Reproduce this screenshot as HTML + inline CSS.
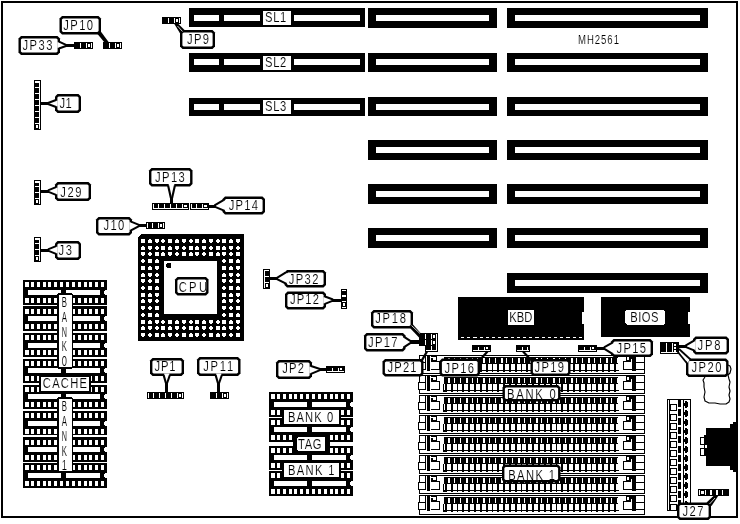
<!DOCTYPE html>
<html lang="en">
<head>
<meta charset="utf-8">
<title>MH2561 motherboard jumper layout</title>
<style>
html,body{margin:0;padding:0;background:#fff;}
body{width:740px;height:524px;overflow:hidden;font-family:"Liberation Sans",sans-serif;}
svg{display:block;}
svg text{font-family:"Liberation Sans",sans-serif;fill:#000;stroke:#fff;stroke-width:0.12px;paint-order:fill stroke;}
</style>
</head>
<body>
<svg width="740" height="524" viewBox="0 0 740 524">
<rect x="0" y="0" width="740" height="524" fill="#fff"/>
<g shape-rendering="crispEdges">
<rect x="2" y="2" width="735" height="515" fill="#fff" stroke="#000" stroke-width="2"/>
<rect x="507" y="8" width="201" height="20" fill="#000"/>
<rect x="515" y="15" width="185" height="6" fill="#fff"/>
<rect x="368" y="8" width="129" height="20" fill="#000"/>
<rect x="376" y="15" width="113" height="6" fill="#fff"/>
<rect x="189" y="8" width="176" height="19" fill="#000"/>
<rect x="194" y="15" width="25" height="6" fill="#fff"/>
<rect x="224" y="15" width="36" height="6" fill="#fff"/>
<rect x="294" y="15" width="66" height="6" fill="#fff"/>
<rect x="263" y="11" width="28" height="14" fill="#fff"/>
<rect x="507" y="53" width="201" height="19" fill="#000"/>
<rect x="515" y="59" width="185" height="6" fill="#fff"/>
<rect x="368" y="53" width="129" height="19" fill="#000"/>
<rect x="376" y="59" width="113" height="6" fill="#fff"/>
<rect x="189" y="53" width="176" height="19" fill="#000"/>
<rect x="194" y="59" width="25" height="6" fill="#fff"/>
<rect x="224" y="59" width="36" height="6" fill="#fff"/>
<rect x="294" y="59" width="66" height="6" fill="#fff"/>
<rect x="263" y="56" width="28" height="14" fill="#fff"/>
<rect x="507" y="97" width="201" height="19" fill="#000"/>
<rect x="515" y="104" width="185" height="6" fill="#fff"/>
<rect x="368" y="97" width="129" height="19" fill="#000"/>
<rect x="376" y="104" width="113" height="6" fill="#fff"/>
<rect x="189" y="98" width="176" height="18" fill="#000"/>
<rect x="194" y="104" width="25" height="6" fill="#fff"/>
<rect x="224" y="104" width="36" height="6" fill="#fff"/>
<rect x="294" y="104" width="66" height="6" fill="#fff"/>
<rect x="263" y="100" width="28" height="14" fill="#fff"/>
<rect x="507" y="140" width="201" height="20" fill="#000"/>
<rect x="515" y="147" width="185" height="6" fill="#fff"/>
<rect x="368" y="140" width="129" height="20" fill="#000"/>
<rect x="376" y="147" width="113" height="6" fill="#fff"/>
<rect x="507" y="184" width="201" height="20" fill="#000"/>
<rect x="515" y="191" width="185" height="6" fill="#fff"/>
<rect x="368" y="184" width="129" height="20" fill="#000"/>
<rect x="376" y="191" width="113" height="6" fill="#fff"/>
<rect x="507" y="228" width="201" height="20" fill="#000"/>
<rect x="515" y="235" width="185" height="6" fill="#fff"/>
<rect x="368" y="228" width="129" height="20" fill="#000"/>
<rect x="376" y="235" width="113" height="6" fill="#fff"/>
<rect x="507" y="273" width="201" height="20" fill="#000"/>
<rect x="515" y="280" width="185" height="6" fill="#fff"/>
<polygon points="62,16 98.5,16 101,18.5 101,32 98.5,34.5 62,34.5 59.5,32 59.5,18.5" fill="#000" shape-rendering="geometricPrecision"/>
<polygon points="63.1,18.4 97.4,18.4 98.6,19.6 98.6,30.9 97.4,32.1 63.1,32.1 61.9,30.9 61.9,19.6" fill="#fff" shape-rendering="geometricPrecision"/>
<polygon points="97.5,34 100.8,31.5 109,42.5 104.5,42.5" fill="#000" shape-rendering="geometricPrecision"/>
<rect x="103" y="42" width="19" height="7" fill="#000"/>
<rect x="109" y="43" width="1" height="5" fill="#fff"/>
<rect x="115" y="43" width="1" height="5" fill="#fff"/>
<rect x="117" y="44" width="2" height="3" fill="#fff"/>
<rect x="120" y="43" width="1" height="5" fill="#fff"/>
<polygon points="21,36 57.5,36 60,38.5 60,52.5 57.5,55 21,55 18.5,52.5 18.5,38.5" fill="#000" shape-rendering="geometricPrecision"/>
<polygon points="22.1,38.4 56.4,38.4 57.6,39.6 57.6,51.4 56.4,52.6 22.1,52.6 20.9,51.4 20.9,39.6" fill="#fff" shape-rendering="geometricPrecision"/>
<polygon points="57.4,42.2 60,42.2 64.5,45.5 60,47.8 57.4,47.8" fill="#fff" shape-rendering="geometricPrecision"/>
<line x1="59" y1="41.6" x2="66" y2="44.9" stroke="#000" stroke-width="2.1" shape-rendering="geometricPrecision"/>
<line x1="59" y1="48.4" x2="66" y2="46.1" stroke="#000" stroke-width="2.1" shape-rendering="geometricPrecision"/>
<rect x="65" y="44" width="9" height="3" fill="#000"/>
<rect x="74" y="42" width="19" height="7" fill="#000"/>
<rect x="80" y="43" width="1" height="5" fill="#fff"/>
<rect x="86" y="43" width="1" height="5" fill="#fff"/>
<rect x="88" y="44" width="2" height="3" fill="#fff"/>
<rect x="91" y="43" width="1" height="5" fill="#fff"/>
<rect x="162" y="17" width="19" height="7" fill="#000"/>
<rect x="168" y="18" width="1" height="5" fill="#fff"/>
<rect x="174" y="18" width="1" height="5" fill="#fff"/>
<rect x="176" y="19" width="2" height="3" fill="#fff"/>
<rect x="179" y="18" width="1" height="5" fill="#fff"/>
<polygon points="182.5,30 212.5,30 215,32.5 215,46.5 212.5,49 182.5,49 180,46.5 180,32.5" fill="#000" shape-rendering="geometricPrecision"/>
<polygon points="183.6,32.4 211.4,32.4 212.6,33.6 212.6,45.4 211.4,46.6 183.6,46.6 182.4,45.4 182.4,33.6" fill="#fff" shape-rendering="geometricPrecision"/>
<polygon points="174,23.5 178,23.5 185,30.5 180.5,34" fill="#000" shape-rendering="geometricPrecision"/>
<line x1="177.5" y1="26" x2="182.5" y2="31.5" stroke="#fff" stroke-width="0.8" shape-rendering="geometricPrecision"/>
<rect x="34" y="80" width="7" height="50" fill="#000"/>
<rect x="39" y="81" width="1" height="48" fill="#fff"/>
<rect x="35" y="81" width="4" height="2" fill="#fff"/>
<rect x="35" y="87" width="5" height="1" fill="#fff"/>
<rect x="35" y="93" width="5" height="1" fill="#fff"/>
<rect x="35" y="99" width="5" height="1" fill="#fff"/>
<rect x="35" y="105" width="5" height="1" fill="#fff"/>
<rect x="35" y="111" width="5" height="1" fill="#fff"/>
<rect x="35" y="117" width="5" height="1" fill="#fff"/>
<rect x="35" y="123" width="5" height="1" fill="#fff"/>
<rect x="36" y="125" width="2" height="3" fill="#fff"/>
<polygon points="57.5,94 78.5,94 81,96.5 81,110.5 78.5,113 57.5,113 55,110.5 55,96.5" fill="#000" shape-rendering="geometricPrecision"/>
<polygon points="58.6,96.4 77.4,96.4 78.6,97.6 78.6,109.4 77.4,110.6 58.6,110.6 57.4,109.4 57.4,97.6" fill="#fff" shape-rendering="geometricPrecision"/>
<polygon points="57.6,100.7 55,100.7 49.5,103.5 55,106.3 57.6,106.3" fill="#fff" shape-rendering="geometricPrecision"/>
<line x1="56" y1="100.1" x2="48" y2="102.9" stroke="#000" stroke-width="2.1" shape-rendering="geometricPrecision"/>
<line x1="56" y1="106.9" x2="48" y2="104.1" stroke="#000" stroke-width="2.1" shape-rendering="geometricPrecision"/>
<rect x="41" y="102" width="8" height="3" fill="#000"/>
<rect x="34" y="180" width="7" height="25" fill="#000"/>
<rect x="39" y="181" width="1" height="23" fill="#fff"/>
<rect x="35" y="181" width="4" height="2" fill="#fff"/>
<rect x="35" y="186" width="5" height="1" fill="#fff"/>
<rect x="35" y="192" width="5" height="1" fill="#fff"/>
<rect x="35" y="198" width="5" height="1" fill="#fff"/>
<rect x="36" y="200" width="2" height="3" fill="#fff"/>
<polygon points="57.5,182 88.5,182 91,184.5 91,198.5 88.5,201 57.5,201 55,198.5 55,184.5" fill="#000" shape-rendering="geometricPrecision"/>
<polygon points="58.6,184.4 87.4,184.4 88.6,185.6 88.6,197.4 87.4,198.6 58.6,198.6 57.4,197.4 57.4,185.6" fill="#fff" shape-rendering="geometricPrecision"/>
<polygon points="57.6,187.7 55,187.7 49.5,191 55,194.3 57.6,194.3" fill="#fff" shape-rendering="geometricPrecision"/>
<line x1="56" y1="187.1" x2="48" y2="190.4" stroke="#000" stroke-width="2.1" shape-rendering="geometricPrecision"/>
<line x1="56" y1="194.9" x2="48" y2="191.6" stroke="#000" stroke-width="2.1" shape-rendering="geometricPrecision"/>
<rect x="41" y="189.5" width="8" height="3" fill="#000"/>
<rect x="34" y="237" width="7" height="25" fill="#000"/>
<rect x="39" y="238" width="1" height="23" fill="#fff"/>
<rect x="35" y="238" width="4" height="2" fill="#fff"/>
<rect x="35" y="243" width="5" height="1" fill="#fff"/>
<rect x="35" y="249" width="5" height="1" fill="#fff"/>
<rect x="35" y="255" width="5" height="1" fill="#fff"/>
<rect x="36" y="257" width="2" height="3" fill="#fff"/>
<polygon points="57.5,241 78.5,241 81,243.5 81,257.5 78.5,260 57.5,260 55,257.5 55,243.5" fill="#000" shape-rendering="geometricPrecision"/>
<polygon points="58.6,243.4 77.4,243.4 78.6,244.6 78.6,256.4 77.4,257.6 58.6,257.6 57.4,256.4 57.4,244.6" fill="#fff" shape-rendering="geometricPrecision"/>
<polygon points="57.6,246.7 55,246.7 49.5,250 55,253.3 57.6,253.3" fill="#fff" shape-rendering="geometricPrecision"/>
<line x1="56" y1="246.1" x2="48" y2="249.4" stroke="#000" stroke-width="2.1" shape-rendering="geometricPrecision"/>
<line x1="56" y1="253.9" x2="48" y2="250.6" stroke="#000" stroke-width="2.1" shape-rendering="geometricPrecision"/>
<rect x="41" y="248.5" width="8" height="3" fill="#000"/>
<polygon points="151.5,168 190,168 192.5,170.5 192.5,184 190,186.5 151.5,186.5 149,184 149,170.5" fill="#000" shape-rendering="geometricPrecision"/>
<polygon points="152.6,170.4 188.9,170.4 190.1,171.6 190.1,182.9 188.9,184.1 152.6,184.1 151.4,182.9 151.4,171.6" fill="#fff" shape-rendering="geometricPrecision"/>
<polygon points="168.7,183.9 168.7,186.5 171.5,196.5 174.3,186.5 174.3,183.9" fill="#fff" shape-rendering="geometricPrecision"/>
<line x1="168.1" y1="185.5" x2="170.9" y2="198" stroke="#000" stroke-width="2.1" shape-rendering="geometricPrecision"/>
<line x1="174.9" y1="185.5" x2="172.1" y2="198" stroke="#000" stroke-width="2.1" shape-rendering="geometricPrecision"/>
<rect x="170.2" y="197" width="2.6" height="6" fill="#000"/>
<rect x="152" y="203" width="37" height="7" fill="#000"/>
<rect x="153" y="208" width="35" height="1" fill="#fff"/>
<rect x="153" y="204" width="1" height="4" fill="#fff"/>
<rect x="158" y="204" width="1" height="5" fill="#fff"/>
<rect x="164" y="204" width="1" height="5" fill="#fff"/>
<rect x="170" y="204" width="1" height="5" fill="#fff"/>
<rect x="176" y="204" width="1" height="5" fill="#fff"/>
<rect x="182" y="204" width="1" height="5" fill="#fff"/>
<rect x="184" y="205" width="3" height="2" fill="#fff"/>
<rect x="190" y="203" width="19" height="7" fill="#000"/>
<rect x="191" y="208" width="17" height="1" fill="#fff"/>
<rect x="191" y="204" width="1" height="4" fill="#fff"/>
<rect x="196" y="204" width="1" height="5" fill="#fff"/>
<rect x="202" y="204" width="1" height="5" fill="#fff"/>
<rect x="204" y="205" width="3" height="2" fill="#fff"/>
<polygon points="225,196.5 262.5,196.5 265,199 265,212 262.5,214.5 225,214.5 222.5,212 222.5,199" fill="#000" shape-rendering="geometricPrecision"/>
<polygon points="226.1,198.9 261.4,198.9 262.6,200.1 262.6,210.9 261.4,212.1 226.1,212.1 224.9,210.9 224.9,200.1" fill="#fff" shape-rendering="geometricPrecision"/>
<polygon points="225.1,200.7 222.5,200.7 216,206 222.5,209.8 225.1,209.8" fill="#fff" shape-rendering="geometricPrecision"/>
<line x1="223.5" y1="200.1" x2="214.5" y2="205.4" stroke="#000" stroke-width="2.1" shape-rendering="geometricPrecision"/>
<line x1="223.5" y1="210.4" x2="214.5" y2="206.6" stroke="#000" stroke-width="2.1" shape-rendering="geometricPrecision"/>
<rect x="209" y="204.5" width="6.5" height="3" fill="#000"/>
<polygon points="98.5,217 129.5,217 132,219.5 132,233 129.5,235.5 98.5,235.5 96,233 96,219.5" fill="#000" shape-rendering="geometricPrecision"/>
<polygon points="99.6,219.4 128.4,219.4 129.6,220.6 129.6,231.9 128.4,233.1 99.6,233.1 98.4,231.9 98.4,220.6" fill="#fff" shape-rendering="geometricPrecision"/>
<polygon points="129.4,222.2 132,222.2 137.5,225.5 132,229.8 129.4,229.8" fill="#fff" shape-rendering="geometricPrecision"/>
<line x1="131" y1="221.6" x2="139" y2="224.9" stroke="#000" stroke-width="2.1" shape-rendering="geometricPrecision"/>
<line x1="131" y1="230.4" x2="139" y2="226.1" stroke="#000" stroke-width="2.1" shape-rendering="geometricPrecision"/>
<rect x="138" y="224" width="8" height="3" fill="#000"/>
<rect x="146" y="222" width="19" height="7" fill="#000"/>
<rect x="152" y="223" width="1" height="5" fill="#fff"/>
<rect x="158" y="223" width="1" height="5" fill="#fff"/>
<rect x="160" y="224" width="2" height="3" fill="#fff"/>
<rect x="163" y="223" width="1" height="5" fill="#fff"/>
<rect x="147" y="223" width="1" height="5" fill="#fff"/>
<polygon points="141,234 244,234 244,341 138,341 138,237" fill="#000"/>
<rect x="141" y="239" width="4" height="4" fill="#fff"/>
<rect x="148" y="240" width="4" height="3" fill="#fff"/>
<rect x="149" y="239" width="2" height="1" fill="#fff"/>
<rect x="155" y="239" width="4" height="3" fill="#fff"/>
<rect x="156" y="242" width="2" height="1" fill="#fff"/>
<rect x="162" y="239" width="2" height="4" fill="#fff"/>
<rect x="161" y="240" width="4" height="2" fill="#fff"/>
<rect x="168" y="239" width="4" height="4" fill="#fff"/>
<rect x="175" y="240" width="4" height="3" fill="#fff"/>
<rect x="176" y="239" width="2" height="1" fill="#fff"/>
<rect x="182" y="239" width="4" height="3" fill="#fff"/>
<rect x="183" y="242" width="2" height="1" fill="#fff"/>
<rect x="190" y="239" width="2" height="4" fill="#fff"/>
<rect x="189" y="240" width="4" height="2" fill="#fff"/>
<rect x="195" y="239" width="4" height="4" fill="#fff"/>
<rect x="202" y="240" width="4" height="3" fill="#fff"/>
<rect x="203" y="239" width="2" height="1" fill="#fff"/>
<rect x="209" y="239" width="4" height="3" fill="#fff"/>
<rect x="210" y="242" width="2" height="1" fill="#fff"/>
<rect x="217" y="239" width="2" height="4" fill="#fff"/>
<rect x="216" y="240" width="4" height="2" fill="#fff"/>
<rect x="222" y="239" width="4" height="4" fill="#fff"/>
<rect x="229" y="240" width="4" height="3" fill="#fff"/>
<rect x="230" y="239" width="2" height="1" fill="#fff"/>
<rect x="236" y="239" width="4" height="3" fill="#fff"/>
<rect x="237" y="242" width="2" height="1" fill="#fff"/>
<rect x="141" y="247" width="4" height="3" fill="#fff"/>
<rect x="142" y="246" width="2" height="1" fill="#fff"/>
<rect x="148" y="246" width="4" height="3" fill="#fff"/>
<rect x="149" y="249" width="2" height="1" fill="#fff"/>
<rect x="156" y="246" width="2" height="4" fill="#fff"/>
<rect x="155" y="247" width="4" height="2" fill="#fff"/>
<rect x="161" y="246" width="4" height="4" fill="#fff"/>
<rect x="168" y="247" width="4" height="3" fill="#fff"/>
<rect x="169" y="246" width="2" height="1" fill="#fff"/>
<rect x="175" y="246" width="4" height="3" fill="#fff"/>
<rect x="176" y="249" width="2" height="1" fill="#fff"/>
<rect x="183" y="246" width="2" height="4" fill="#fff"/>
<rect x="182" y="247" width="4" height="2" fill="#fff"/>
<rect x="189" y="246" width="4" height="4" fill="#fff"/>
<rect x="195" y="247" width="4" height="3" fill="#fff"/>
<rect x="196" y="246" width="2" height="1" fill="#fff"/>
<rect x="202" y="246" width="4" height="3" fill="#fff"/>
<rect x="203" y="249" width="2" height="1" fill="#fff"/>
<rect x="210" y="246" width="2" height="4" fill="#fff"/>
<rect x="209" y="247" width="4" height="2" fill="#fff"/>
<rect x="216" y="246" width="4" height="4" fill="#fff"/>
<rect x="222" y="247" width="4" height="3" fill="#fff"/>
<rect x="223" y="246" width="2" height="1" fill="#fff"/>
<rect x="229" y="246" width="4" height="3" fill="#fff"/>
<rect x="230" y="249" width="2" height="1" fill="#fff"/>
<rect x="237" y="246" width="2" height="4" fill="#fff"/>
<rect x="236" y="247" width="4" height="2" fill="#fff"/>
<rect x="141" y="252" width="4" height="3" fill="#fff"/>
<rect x="142" y="255" width="2" height="1" fill="#fff"/>
<rect x="149" y="252" width="2" height="4" fill="#fff"/>
<rect x="148" y="253" width="4" height="2" fill="#fff"/>
<rect x="155" y="252" width="4" height="4" fill="#fff"/>
<rect x="161" y="253" width="4" height="3" fill="#fff"/>
<rect x="162" y="252" width="2" height="1" fill="#fff"/>
<rect x="168" y="252" width="4" height="3" fill="#fff"/>
<rect x="169" y="255" width="2" height="1" fill="#fff"/>
<rect x="176" y="252" width="2" height="4" fill="#fff"/>
<rect x="175" y="253" width="4" height="2" fill="#fff"/>
<rect x="182" y="252" width="4" height="4" fill="#fff"/>
<rect x="189" y="253" width="4" height="3" fill="#fff"/>
<rect x="190" y="252" width="2" height="1" fill="#fff"/>
<rect x="195" y="252" width="4" height="3" fill="#fff"/>
<rect x="196" y="255" width="2" height="1" fill="#fff"/>
<rect x="203" y="252" width="2" height="4" fill="#fff"/>
<rect x="202" y="253" width="4" height="2" fill="#fff"/>
<rect x="209" y="252" width="4" height="4" fill="#fff"/>
<rect x="216" y="253" width="4" height="3" fill="#fff"/>
<rect x="217" y="252" width="2" height="1" fill="#fff"/>
<rect x="222" y="252" width="4" height="3" fill="#fff"/>
<rect x="223" y="255" width="2" height="1" fill="#fff"/>
<rect x="230" y="252" width="2" height="4" fill="#fff"/>
<rect x="229" y="253" width="4" height="2" fill="#fff"/>
<rect x="236" y="252" width="4" height="4" fill="#fff"/>
<rect x="142" y="259" width="2" height="4" fill="#fff"/>
<rect x="141" y="260" width="4" height="2" fill="#fff"/>
<rect x="148" y="259" width="4" height="4" fill="#fff"/>
<rect x="155" y="260" width="4" height="3" fill="#fff"/>
<rect x="156" y="259" width="2" height="1" fill="#fff"/>
<rect x="223" y="259" width="2" height="4" fill="#fff"/>
<rect x="222" y="260" width="4" height="2" fill="#fff"/>
<rect x="229" y="259" width="4" height="4" fill="#fff"/>
<rect x="236" y="260" width="4" height="3" fill="#fff"/>
<rect x="237" y="259" width="2" height="1" fill="#fff"/>
<rect x="141" y="266" width="4" height="4" fill="#fff"/>
<rect x="148" y="267" width="4" height="3" fill="#fff"/>
<rect x="149" y="266" width="2" height="1" fill="#fff"/>
<rect x="155" y="266" width="4" height="3" fill="#fff"/>
<rect x="156" y="269" width="2" height="1" fill="#fff"/>
<rect x="222" y="266" width="4" height="4" fill="#fff"/>
<rect x="229" y="267" width="4" height="3" fill="#fff"/>
<rect x="230" y="266" width="2" height="1" fill="#fff"/>
<rect x="236" y="266" width="4" height="3" fill="#fff"/>
<rect x="237" y="269" width="2" height="1" fill="#fff"/>
<rect x="141" y="274" width="4" height="3" fill="#fff"/>
<rect x="142" y="273" width="2" height="1" fill="#fff"/>
<rect x="148" y="273" width="4" height="3" fill="#fff"/>
<rect x="149" y="276" width="2" height="1" fill="#fff"/>
<rect x="156" y="273" width="2" height="4" fill="#fff"/>
<rect x="155" y="274" width="4" height="2" fill="#fff"/>
<rect x="222" y="274" width="4" height="3" fill="#fff"/>
<rect x="223" y="273" width="2" height="1" fill="#fff"/>
<rect x="229" y="273" width="4" height="3" fill="#fff"/>
<rect x="230" y="276" width="2" height="1" fill="#fff"/>
<rect x="237" y="273" width="2" height="4" fill="#fff"/>
<rect x="236" y="274" width="4" height="2" fill="#fff"/>
<rect x="141" y="279" width="4" height="3" fill="#fff"/>
<rect x="142" y="282" width="2" height="1" fill="#fff"/>
<rect x="149" y="279" width="2" height="4" fill="#fff"/>
<rect x="148" y="280" width="4" height="2" fill="#fff"/>
<rect x="155" y="279" width="4" height="4" fill="#fff"/>
<rect x="222" y="279" width="4" height="3" fill="#fff"/>
<rect x="223" y="282" width="2" height="1" fill="#fff"/>
<rect x="230" y="279" width="2" height="4" fill="#fff"/>
<rect x="229" y="280" width="4" height="2" fill="#fff"/>
<rect x="236" y="279" width="4" height="4" fill="#fff"/>
<rect x="142" y="286" width="2" height="4" fill="#fff"/>
<rect x="141" y="287" width="4" height="2" fill="#fff"/>
<rect x="148" y="286" width="4" height="4" fill="#fff"/>
<rect x="155" y="287" width="4" height="3" fill="#fff"/>
<rect x="156" y="286" width="2" height="1" fill="#fff"/>
<rect x="223" y="286" width="2" height="4" fill="#fff"/>
<rect x="222" y="287" width="4" height="2" fill="#fff"/>
<rect x="229" y="286" width="4" height="4" fill="#fff"/>
<rect x="236" y="287" width="4" height="3" fill="#fff"/>
<rect x="237" y="286" width="2" height="1" fill="#fff"/>
<rect x="141" y="293" width="4" height="4" fill="#fff"/>
<rect x="148" y="294" width="4" height="3" fill="#fff"/>
<rect x="149" y="293" width="2" height="1" fill="#fff"/>
<rect x="155" y="293" width="4" height="3" fill="#fff"/>
<rect x="156" y="296" width="2" height="1" fill="#fff"/>
<rect x="222" y="293" width="4" height="4" fill="#fff"/>
<rect x="229" y="294" width="4" height="3" fill="#fff"/>
<rect x="230" y="293" width="2" height="1" fill="#fff"/>
<rect x="236" y="293" width="4" height="3" fill="#fff"/>
<rect x="237" y="296" width="2" height="1" fill="#fff"/>
<rect x="141" y="300" width="4" height="3" fill="#fff"/>
<rect x="142" y="299" width="2" height="1" fill="#fff"/>
<rect x="148" y="299" width="4" height="3" fill="#fff"/>
<rect x="149" y="302" width="2" height="1" fill="#fff"/>
<rect x="156" y="299" width="2" height="4" fill="#fff"/>
<rect x="155" y="300" width="4" height="2" fill="#fff"/>
<rect x="222" y="300" width="4" height="3" fill="#fff"/>
<rect x="223" y="299" width="2" height="1" fill="#fff"/>
<rect x="229" y="299" width="4" height="3" fill="#fff"/>
<rect x="230" y="302" width="2" height="1" fill="#fff"/>
<rect x="237" y="299" width="2" height="4" fill="#fff"/>
<rect x="236" y="300" width="4" height="2" fill="#fff"/>
<rect x="141" y="306" width="4" height="3" fill="#fff"/>
<rect x="142" y="309" width="2" height="1" fill="#fff"/>
<rect x="149" y="306" width="2" height="4" fill="#fff"/>
<rect x="148" y="307" width="4" height="2" fill="#fff"/>
<rect x="155" y="306" width="4" height="4" fill="#fff"/>
<rect x="222" y="306" width="4" height="3" fill="#fff"/>
<rect x="223" y="309" width="2" height="1" fill="#fff"/>
<rect x="230" y="306" width="2" height="4" fill="#fff"/>
<rect x="229" y="307" width="4" height="2" fill="#fff"/>
<rect x="236" y="306" width="4" height="4" fill="#fff"/>
<rect x="142" y="313" width="2" height="4" fill="#fff"/>
<rect x="141" y="314" width="4" height="2" fill="#fff"/>
<rect x="148" y="313" width="4" height="4" fill="#fff"/>
<rect x="155" y="314" width="4" height="3" fill="#fff"/>
<rect x="156" y="313" width="2" height="1" fill="#fff"/>
<rect x="223" y="313" width="2" height="4" fill="#fff"/>
<rect x="222" y="314" width="4" height="2" fill="#fff"/>
<rect x="229" y="313" width="4" height="4" fill="#fff"/>
<rect x="236" y="314" width="4" height="3" fill="#fff"/>
<rect x="237" y="313" width="2" height="1" fill="#fff"/>
<rect x="141" y="320" width="4" height="4" fill="#fff"/>
<rect x="148" y="321" width="4" height="3" fill="#fff"/>
<rect x="149" y="320" width="2" height="1" fill="#fff"/>
<rect x="155" y="320" width="4" height="3" fill="#fff"/>
<rect x="156" y="323" width="2" height="1" fill="#fff"/>
<rect x="162" y="320" width="2" height="4" fill="#fff"/>
<rect x="161" y="321" width="4" height="2" fill="#fff"/>
<rect x="168" y="320" width="4" height="4" fill="#fff"/>
<rect x="175" y="321" width="4" height="3" fill="#fff"/>
<rect x="176" y="320" width="2" height="1" fill="#fff"/>
<rect x="182" y="320" width="4" height="3" fill="#fff"/>
<rect x="183" y="323" width="2" height="1" fill="#fff"/>
<rect x="190" y="320" width="2" height="4" fill="#fff"/>
<rect x="189" y="321" width="4" height="2" fill="#fff"/>
<rect x="195" y="320" width="4" height="4" fill="#fff"/>
<rect x="202" y="321" width="4" height="3" fill="#fff"/>
<rect x="203" y="320" width="2" height="1" fill="#fff"/>
<rect x="209" y="320" width="4" height="3" fill="#fff"/>
<rect x="210" y="323" width="2" height="1" fill="#fff"/>
<rect x="217" y="320" width="2" height="4" fill="#fff"/>
<rect x="216" y="321" width="4" height="2" fill="#fff"/>
<rect x="222" y="320" width="4" height="4" fill="#fff"/>
<rect x="229" y="321" width="4" height="3" fill="#fff"/>
<rect x="230" y="320" width="2" height="1" fill="#fff"/>
<rect x="236" y="320" width="4" height="3" fill="#fff"/>
<rect x="237" y="323" width="2" height="1" fill="#fff"/>
<rect x="141" y="327" width="4" height="3" fill="#fff"/>
<rect x="142" y="326" width="2" height="1" fill="#fff"/>
<rect x="148" y="326" width="4" height="3" fill="#fff"/>
<rect x="149" y="329" width="2" height="1" fill="#fff"/>
<rect x="156" y="326" width="2" height="4" fill="#fff"/>
<rect x="155" y="327" width="4" height="2" fill="#fff"/>
<rect x="161" y="326" width="4" height="4" fill="#fff"/>
<rect x="168" y="327" width="4" height="3" fill="#fff"/>
<rect x="169" y="326" width="2" height="1" fill="#fff"/>
<rect x="175" y="326" width="4" height="3" fill="#fff"/>
<rect x="176" y="329" width="2" height="1" fill="#fff"/>
<rect x="183" y="326" width="2" height="4" fill="#fff"/>
<rect x="182" y="327" width="4" height="2" fill="#fff"/>
<rect x="189" y="326" width="4" height="4" fill="#fff"/>
<rect x="195" y="327" width="4" height="3" fill="#fff"/>
<rect x="196" y="326" width="2" height="1" fill="#fff"/>
<rect x="202" y="326" width="4" height="3" fill="#fff"/>
<rect x="203" y="329" width="2" height="1" fill="#fff"/>
<rect x="210" y="326" width="2" height="4" fill="#fff"/>
<rect x="209" y="327" width="4" height="2" fill="#fff"/>
<rect x="216" y="326" width="4" height="4" fill="#fff"/>
<rect x="222" y="327" width="4" height="3" fill="#fff"/>
<rect x="223" y="326" width="2" height="1" fill="#fff"/>
<rect x="229" y="326" width="4" height="3" fill="#fff"/>
<rect x="230" y="329" width="2" height="1" fill="#fff"/>
<rect x="237" y="326" width="2" height="4" fill="#fff"/>
<rect x="236" y="327" width="4" height="2" fill="#fff"/>
<rect x="141" y="333" width="4" height="3" fill="#fff"/>
<rect x="142" y="336" width="2" height="1" fill="#fff"/>
<rect x="149" y="333" width="2" height="4" fill="#fff"/>
<rect x="148" y="334" width="4" height="2" fill="#fff"/>
<rect x="155" y="333" width="4" height="4" fill="#fff"/>
<rect x="161" y="334" width="4" height="3" fill="#fff"/>
<rect x="162" y="333" width="2" height="1" fill="#fff"/>
<rect x="168" y="333" width="4" height="3" fill="#fff"/>
<rect x="169" y="336" width="2" height="1" fill="#fff"/>
<rect x="176" y="333" width="2" height="4" fill="#fff"/>
<rect x="175" y="334" width="4" height="2" fill="#fff"/>
<rect x="182" y="333" width="4" height="4" fill="#fff"/>
<rect x="189" y="334" width="4" height="3" fill="#fff"/>
<rect x="190" y="333" width="2" height="1" fill="#fff"/>
<rect x="195" y="333" width="4" height="3" fill="#fff"/>
<rect x="196" y="336" width="2" height="1" fill="#fff"/>
<rect x="203" y="333" width="2" height="4" fill="#fff"/>
<rect x="202" y="334" width="4" height="2" fill="#fff"/>
<rect x="209" y="333" width="4" height="4" fill="#fff"/>
<rect x="216" y="334" width="4" height="3" fill="#fff"/>
<rect x="217" y="333" width="2" height="1" fill="#fff"/>
<rect x="222" y="333" width="4" height="3" fill="#fff"/>
<rect x="223" y="336" width="2" height="1" fill="#fff"/>
<rect x="230" y="333" width="2" height="4" fill="#fff"/>
<rect x="229" y="334" width="4" height="2" fill="#fff"/>
<rect x="236" y="333" width="4" height="4" fill="#fff"/>
<rect x="164" y="261" width="53" height="53" fill="#fff"/>
<polygon points="167,263 170,263 171,264 171,267 170,268 167,268 166,267 166,264" fill="#000"/>
<polygon points="177.5,277 206,277 208.5,279.5 208.5,293 206,295.5 177.5,295.5 175,293 175,279.5" fill="#000" shape-rendering="geometricPrecision"/>
<polygon points="178.6,279.4 204.9,279.4 206.1,280.6 206.1,291.9 204.9,293.1 178.6,293.1 177.4,291.9 177.4,280.6" fill="#fff" shape-rendering="geometricPrecision"/>
<rect x="263" y="269" width="7" height="20" fill="#000"/>
<rect x="264" y="270" width="1" height="18" fill="#fff"/>
<rect x="265" y="270" width="4" height="1" fill="#fff"/>
<rect x="264" y="276" width="5" height="1" fill="#fff"/>
<rect x="264" y="282" width="5" height="1" fill="#fff"/>
<rect x="266" y="284" width="2" height="3" fill="#fff"/>
<polygon points="287,270 323.5,270 326,272.5 326,285 323.5,287.5 287,287.5 284.5,285 284.5,272.5" fill="#000" shape-rendering="geometricPrecision"/>
<polygon points="288.1,272.4 322.4,272.4 323.6,273.6 323.6,283.9 322.4,285.1 288.1,285.1 286.9,283.9 286.9,273.6" fill="#fff" shape-rendering="geometricPrecision"/>
<polygon points="287.1,273.2 284.5,273.2 278.5,278.5 284.5,282.8 287.1,282.8" fill="#fff" shape-rendering="geometricPrecision"/>
<line x1="285.5" y1="272.6" x2="277" y2="277.9" stroke="#000" stroke-width="2.1" shape-rendering="geometricPrecision"/>
<line x1="285.5" y1="283.4" x2="277" y2="279.1" stroke="#000" stroke-width="2.1" shape-rendering="geometricPrecision"/>
<rect x="270" y="277" width="8" height="3" fill="#000"/>
<polygon points="287.5,291.5 323.5,291.5 326,294 326,307 323.5,309.5 287.5,309.5 285,307 285,294" fill="#000" shape-rendering="geometricPrecision"/>
<polygon points="288.6,293.9 322.4,293.9 323.6,295.1 323.6,305.9 322.4,307.1 288.6,307.1 287.4,305.9 287.4,295.1" fill="#fff" shape-rendering="geometricPrecision"/>
<polygon points="323.4,297.2 326,297.2 331.5,300 326,303.3 323.4,303.3" fill="#fff" shape-rendering="geometricPrecision"/>
<line x1="325" y1="296.6" x2="333" y2="299.4" stroke="#000" stroke-width="2.1" shape-rendering="geometricPrecision"/>
<line x1="325" y1="303.9" x2="333" y2="300.6" stroke="#000" stroke-width="2.1" shape-rendering="geometricPrecision"/>
<rect x="332" y="298.5" width="9" height="3" fill="#000"/>
<rect x="341" y="289" width="6" height="20" fill="#000"/>
<rect x="342" y="290" width="4" height="1" fill="#fff"/>
<rect x="342" y="295" width="4" height="2" fill="#fff"/>
<rect x="342" y="301" width="4" height="1" fill="#fff"/>
<rect x="343" y="303" width="2" height="3" fill="#fff"/>
<rect x="342" y="307" width="4" height="1" fill="#fff"/>
<polygon points="152.5,358 181.5,358 184,360.5 184,373.5 181.5,376 152.5,376 150,373.5 150,360.5" fill="#000" shape-rendering="geometricPrecision"/>
<polygon points="153.6,360.4 180.4,360.4 181.6,361.6 181.6,372.4 180.4,373.6 153.6,373.6 152.4,372.4 152.4,361.6" fill="#fff" shape-rendering="geometricPrecision"/>
<polygon points="164.2,373.4 164.2,376 166.5,381.5 169.3,376 169.3,373.4" fill="#fff" shape-rendering="geometricPrecision"/>
<line x1="163.6" y1="375" x2="165.9" y2="383" stroke="#000" stroke-width="2.1" shape-rendering="geometricPrecision"/>
<line x1="169.9" y1="375" x2="167.1" y2="383" stroke="#000" stroke-width="2.1" shape-rendering="geometricPrecision"/>
<rect x="165" y="382" width="3" height="10" fill="#000"/>
<rect x="147" y="392" width="37" height="7" fill="#000"/>
<rect x="153" y="393" width="1" height="5" fill="#fff"/>
<rect x="159" y="393" width="1" height="5" fill="#fff"/>
<rect x="165" y="393" width="1" height="5" fill="#fff"/>
<rect x="171" y="393" width="1" height="5" fill="#fff"/>
<rect x="177" y="393" width="1" height="5" fill="#fff"/>
<rect x="148" y="393" width="1" height="5" fill="#fff"/>
<rect x="179" y="394" width="2" height="3" fill="#fff"/>
<rect x="182" y="393" width="1" height="5" fill="#fff"/>
<polygon points="199.5,357 238,357 240.5,359.5 240.5,373.5 238,376 199.5,376 197,373.5 197,359.5" fill="#000" shape-rendering="geometricPrecision"/>
<polygon points="200.6,359.4 236.9,359.4 238.1,360.6 238.1,372.4 236.9,373.6 200.6,373.6 199.4,372.4 199.4,360.6" fill="#fff" shape-rendering="geometricPrecision"/>
<polygon points="216.2,373.4 216.2,376 218.5,381.5 221.3,376 221.3,373.4" fill="#fff" shape-rendering="geometricPrecision"/>
<line x1="215.6" y1="375" x2="217.9" y2="383" stroke="#000" stroke-width="2.1" shape-rendering="geometricPrecision"/>
<line x1="221.9" y1="375" x2="219.1" y2="383" stroke="#000" stroke-width="2.1" shape-rendering="geometricPrecision"/>
<rect x="217" y="382" width="3" height="10" fill="#000"/>
<rect x="210" y="392" width="19" height="7" fill="#000"/>
<rect x="216" y="393" width="1" height="5" fill="#fff"/>
<rect x="222" y="393" width="1" height="5" fill="#fff"/>
<rect x="224" y="394" width="2" height="3" fill="#fff"/>
<rect x="227" y="393" width="1" height="5" fill="#fff"/>
<polygon points="278.5,360 309.5,360 312,362.5 312,376.5 309.5,379 278.5,379 276,376.5 276,362.5" fill="#000" shape-rendering="geometricPrecision"/>
<polygon points="279.6,362.4 308.4,362.4 309.6,363.6 309.6,375.4 308.4,376.6 279.6,376.6 278.4,375.4 278.4,363.6" fill="#fff" shape-rendering="geometricPrecision"/>
<polygon points="309.4,366.7 312,366.7 318.5,369.5 312,373.3 309.4,373.3" fill="#fff" shape-rendering="geometricPrecision"/>
<line x1="311" y1="366.1" x2="320" y2="368.9" stroke="#000" stroke-width="2.1" shape-rendering="geometricPrecision"/>
<line x1="311" y1="373.9" x2="320" y2="370.1" stroke="#000" stroke-width="2.1" shape-rendering="geometricPrecision"/>
<rect x="319" y="368" width="7" height="3" fill="#000"/>
<rect x="326" y="366" width="19" height="7" fill="#000"/>
<rect x="327" y="371" width="17" height="1" fill="#fff"/>
<rect x="332" y="368" width="1" height="3" fill="#fff"/>
<rect x="338" y="368" width="1" height="3" fill="#fff"/>
<rect x="340" y="368" width="2" height="2" fill="#fff"/>
<rect x="23" y="280" width="84" height="25" fill="#000"/>
<rect x="25" y="282" width="4" height="5" fill="#fff"/>
<rect x="25" y="298" width="4" height="5" fill="#fff"/>
<rect x="31" y="282" width="3" height="5" fill="#fff"/>
<rect x="31" y="298" width="3" height="5" fill="#fff"/>
<rect x="37" y="282" width="3" height="5" fill="#fff"/>
<rect x="37" y="298" width="3" height="5" fill="#fff"/>
<rect x="43" y="282" width="3" height="5" fill="#fff"/>
<rect x="43" y="298" width="3" height="5" fill="#fff"/>
<rect x="48" y="282" width="3" height="5" fill="#fff"/>
<rect x="48" y="298" width="3" height="5" fill="#fff"/>
<rect x="54" y="282" width="3" height="5" fill="#fff"/>
<rect x="54" y="298" width="3" height="5" fill="#fff"/>
<rect x="60" y="282" width="3" height="5" fill="#fff"/>
<rect x="60" y="298" width="3" height="5" fill="#fff"/>
<rect x="66" y="282" width="3" height="5" fill="#fff"/>
<rect x="66" y="298" width="3" height="5" fill="#fff"/>
<rect x="72" y="282" width="3" height="5" fill="#fff"/>
<rect x="72" y="298" width="3" height="5" fill="#fff"/>
<rect x="78" y="282" width="3" height="5" fill="#fff"/>
<rect x="78" y="298" width="3" height="5" fill="#fff"/>
<rect x="84" y="282" width="3" height="5" fill="#fff"/>
<rect x="84" y="298" width="3" height="5" fill="#fff"/>
<rect x="89" y="282" width="3" height="5" fill="#fff"/>
<rect x="89" y="298" width="3" height="5" fill="#fff"/>
<rect x="95" y="282" width="3" height="5" fill="#fff"/>
<rect x="95" y="298" width="3" height="5" fill="#fff"/>
<rect x="101" y="282" width="3" height="5" fill="#fff"/>
<rect x="101" y="298" width="3" height="5" fill="#fff"/>
<rect x="28" y="290" width="33" height="5" fill="#fff"/>
<rect x="66" y="290" width="34" height="5" fill="#fff"/>
<polygon points="107,289.5 104,291 104,294 107,295.5" fill="#fff"/>
<rect x="23" y="306" width="84" height="25" fill="#000"/>
<rect x="25" y="309" width="4" height="5" fill="#fff"/>
<rect x="25" y="324" width="4" height="5" fill="#fff"/>
<rect x="31" y="309" width="3" height="5" fill="#fff"/>
<rect x="31" y="324" width="3" height="5" fill="#fff"/>
<rect x="37" y="309" width="3" height="5" fill="#fff"/>
<rect x="37" y="324" width="3" height="5" fill="#fff"/>
<rect x="43" y="309" width="3" height="5" fill="#fff"/>
<rect x="43" y="324" width="3" height="5" fill="#fff"/>
<rect x="48" y="309" width="3" height="5" fill="#fff"/>
<rect x="48" y="324" width="3" height="5" fill="#fff"/>
<rect x="54" y="309" width="3" height="5" fill="#fff"/>
<rect x="54" y="324" width="3" height="5" fill="#fff"/>
<rect x="60" y="309" width="3" height="5" fill="#fff"/>
<rect x="60" y="324" width="3" height="5" fill="#fff"/>
<rect x="66" y="309" width="3" height="5" fill="#fff"/>
<rect x="66" y="324" width="3" height="5" fill="#fff"/>
<rect x="72" y="309" width="3" height="5" fill="#fff"/>
<rect x="72" y="324" width="3" height="5" fill="#fff"/>
<rect x="78" y="309" width="3" height="5" fill="#fff"/>
<rect x="78" y="324" width="3" height="5" fill="#fff"/>
<rect x="84" y="309" width="3" height="5" fill="#fff"/>
<rect x="84" y="324" width="3" height="5" fill="#fff"/>
<rect x="89" y="309" width="3" height="5" fill="#fff"/>
<rect x="89" y="324" width="3" height="5" fill="#fff"/>
<rect x="95" y="309" width="3" height="5" fill="#fff"/>
<rect x="95" y="324" width="3" height="5" fill="#fff"/>
<rect x="101" y="309" width="3" height="5" fill="#fff"/>
<rect x="101" y="324" width="3" height="5" fill="#fff"/>
<rect x="28" y="316" width="33" height="5" fill="#fff"/>
<rect x="66" y="316" width="34" height="5" fill="#fff"/>
<polygon points="107,315.5 104,317 104,320 107,321.5" fill="#fff"/>
<rect x="23" y="333" width="84" height="24" fill="#000"/>
<rect x="25" y="335" width="4" height="5" fill="#fff"/>
<rect x="25" y="350" width="4" height="5" fill="#fff"/>
<rect x="31" y="335" width="3" height="5" fill="#fff"/>
<rect x="31" y="350" width="3" height="5" fill="#fff"/>
<rect x="37" y="335" width="3" height="5" fill="#fff"/>
<rect x="37" y="350" width="3" height="5" fill="#fff"/>
<rect x="43" y="335" width="3" height="5" fill="#fff"/>
<rect x="43" y="350" width="3" height="5" fill="#fff"/>
<rect x="48" y="335" width="3" height="5" fill="#fff"/>
<rect x="48" y="350" width="3" height="5" fill="#fff"/>
<rect x="54" y="335" width="3" height="5" fill="#fff"/>
<rect x="54" y="350" width="3" height="5" fill="#fff"/>
<rect x="60" y="335" width="3" height="5" fill="#fff"/>
<rect x="60" y="350" width="3" height="5" fill="#fff"/>
<rect x="66" y="335" width="3" height="5" fill="#fff"/>
<rect x="66" y="350" width="3" height="5" fill="#fff"/>
<rect x="72" y="335" width="3" height="5" fill="#fff"/>
<rect x="72" y="350" width="3" height="5" fill="#fff"/>
<rect x="78" y="335" width="3" height="5" fill="#fff"/>
<rect x="78" y="350" width="3" height="5" fill="#fff"/>
<rect x="84" y="335" width="3" height="5" fill="#fff"/>
<rect x="84" y="350" width="3" height="5" fill="#fff"/>
<rect x="89" y="335" width="3" height="5" fill="#fff"/>
<rect x="89" y="350" width="3" height="5" fill="#fff"/>
<rect x="95" y="335" width="3" height="5" fill="#fff"/>
<rect x="95" y="350" width="3" height="5" fill="#fff"/>
<rect x="101" y="335" width="3" height="5" fill="#fff"/>
<rect x="101" y="350" width="3" height="5" fill="#fff"/>
<rect x="28" y="343" width="33" height="5" fill="#fff"/>
<rect x="66" y="343" width="34" height="5" fill="#fff"/>
<polygon points="107,342.5 104,344 104,347 107,348.5" fill="#fff"/>
<rect x="23" y="359" width="84" height="24" fill="#000"/>
<rect x="25" y="361" width="4" height="5" fill="#fff"/>
<rect x="25" y="376" width="4" height="5" fill="#fff"/>
<rect x="31" y="361" width="3" height="5" fill="#fff"/>
<rect x="31" y="376" width="3" height="5" fill="#fff"/>
<rect x="37" y="361" width="3" height="5" fill="#fff"/>
<rect x="37" y="376" width="3" height="5" fill="#fff"/>
<rect x="43" y="361" width="3" height="5" fill="#fff"/>
<rect x="43" y="376" width="3" height="5" fill="#fff"/>
<rect x="48" y="361" width="3" height="5" fill="#fff"/>
<rect x="48" y="376" width="3" height="5" fill="#fff"/>
<rect x="54" y="361" width="3" height="5" fill="#fff"/>
<rect x="54" y="376" width="3" height="5" fill="#fff"/>
<rect x="60" y="361" width="3" height="5" fill="#fff"/>
<rect x="60" y="376" width="3" height="5" fill="#fff"/>
<rect x="66" y="361" width="3" height="5" fill="#fff"/>
<rect x="66" y="376" width="3" height="5" fill="#fff"/>
<rect x="72" y="361" width="3" height="5" fill="#fff"/>
<rect x="72" y="376" width="3" height="5" fill="#fff"/>
<rect x="78" y="361" width="3" height="5" fill="#fff"/>
<rect x="78" y="376" width="3" height="5" fill="#fff"/>
<rect x="84" y="361" width="3" height="5" fill="#fff"/>
<rect x="84" y="376" width="3" height="5" fill="#fff"/>
<rect x="89" y="361" width="3" height="5" fill="#fff"/>
<rect x="89" y="376" width="3" height="5" fill="#fff"/>
<rect x="95" y="361" width="3" height="5" fill="#fff"/>
<rect x="95" y="376" width="3" height="5" fill="#fff"/>
<rect x="101" y="361" width="3" height="5" fill="#fff"/>
<rect x="101" y="376" width="3" height="5" fill="#fff"/>
<rect x="28" y="368" width="33" height="5" fill="#fff"/>
<rect x="66" y="368" width="34" height="5" fill="#fff"/>
<polygon points="107,367.5 104,369 104,372 107,373.5" fill="#fff"/>
<rect x="23" y="385" width="84" height="24" fill="#000"/>
<rect x="25" y="387" width="4" height="5" fill="#fff"/>
<rect x="25" y="402" width="4" height="5" fill="#fff"/>
<rect x="31" y="387" width="3" height="5" fill="#fff"/>
<rect x="31" y="402" width="3" height="5" fill="#fff"/>
<rect x="37" y="387" width="3" height="5" fill="#fff"/>
<rect x="37" y="402" width="3" height="5" fill="#fff"/>
<rect x="43" y="387" width="3" height="5" fill="#fff"/>
<rect x="43" y="402" width="3" height="5" fill="#fff"/>
<rect x="48" y="387" width="3" height="5" fill="#fff"/>
<rect x="48" y="402" width="3" height="5" fill="#fff"/>
<rect x="54" y="387" width="3" height="5" fill="#fff"/>
<rect x="54" y="402" width="3" height="5" fill="#fff"/>
<rect x="60" y="387" width="3" height="5" fill="#fff"/>
<rect x="60" y="402" width="3" height="5" fill="#fff"/>
<rect x="66" y="387" width="3" height="5" fill="#fff"/>
<rect x="66" y="402" width="3" height="5" fill="#fff"/>
<rect x="72" y="387" width="3" height="5" fill="#fff"/>
<rect x="72" y="402" width="3" height="5" fill="#fff"/>
<rect x="78" y="387" width="3" height="5" fill="#fff"/>
<rect x="78" y="402" width="3" height="5" fill="#fff"/>
<rect x="84" y="387" width="3" height="5" fill="#fff"/>
<rect x="84" y="402" width="3" height="5" fill="#fff"/>
<rect x="89" y="387" width="3" height="5" fill="#fff"/>
<rect x="89" y="402" width="3" height="5" fill="#fff"/>
<rect x="95" y="387" width="3" height="5" fill="#fff"/>
<rect x="95" y="402" width="3" height="5" fill="#fff"/>
<rect x="101" y="387" width="3" height="5" fill="#fff"/>
<rect x="101" y="402" width="3" height="5" fill="#fff"/>
<rect x="28" y="394" width="33" height="5" fill="#fff"/>
<rect x="66" y="394" width="34" height="5" fill="#fff"/>
<polygon points="107,393.5 104,395 104,398 107,399.5" fill="#fff"/>
<rect x="23" y="411" width="84" height="24" fill="#000"/>
<rect x="25" y="413" width="4" height="5" fill="#fff"/>
<rect x="25" y="429" width="4" height="5" fill="#fff"/>
<rect x="31" y="413" width="3" height="5" fill="#fff"/>
<rect x="31" y="429" width="3" height="5" fill="#fff"/>
<rect x="37" y="413" width="3" height="5" fill="#fff"/>
<rect x="37" y="429" width="3" height="5" fill="#fff"/>
<rect x="43" y="413" width="3" height="5" fill="#fff"/>
<rect x="43" y="429" width="3" height="5" fill="#fff"/>
<rect x="48" y="413" width="3" height="5" fill="#fff"/>
<rect x="48" y="429" width="3" height="5" fill="#fff"/>
<rect x="54" y="413" width="3" height="5" fill="#fff"/>
<rect x="54" y="429" width="3" height="5" fill="#fff"/>
<rect x="60" y="413" width="3" height="5" fill="#fff"/>
<rect x="60" y="429" width="3" height="5" fill="#fff"/>
<rect x="66" y="413" width="3" height="5" fill="#fff"/>
<rect x="66" y="429" width="3" height="5" fill="#fff"/>
<rect x="72" y="413" width="3" height="5" fill="#fff"/>
<rect x="72" y="429" width="3" height="5" fill="#fff"/>
<rect x="78" y="413" width="3" height="5" fill="#fff"/>
<rect x="78" y="429" width="3" height="5" fill="#fff"/>
<rect x="84" y="413" width="3" height="5" fill="#fff"/>
<rect x="84" y="429" width="3" height="5" fill="#fff"/>
<rect x="89" y="413" width="3" height="5" fill="#fff"/>
<rect x="89" y="429" width="3" height="5" fill="#fff"/>
<rect x="95" y="413" width="3" height="5" fill="#fff"/>
<rect x="95" y="429" width="3" height="5" fill="#fff"/>
<rect x="101" y="413" width="3" height="5" fill="#fff"/>
<rect x="101" y="429" width="3" height="5" fill="#fff"/>
<rect x="28" y="421" width="33" height="5" fill="#fff"/>
<rect x="66" y="421" width="34" height="5" fill="#fff"/>
<polygon points="107,420.5 104,422 104,425 107,426.5" fill="#fff"/>
<rect x="23" y="437" width="84" height="25" fill="#000"/>
<rect x="25" y="440" width="4" height="5" fill="#fff"/>
<rect x="25" y="455" width="4" height="5" fill="#fff"/>
<rect x="31" y="440" width="3" height="5" fill="#fff"/>
<rect x="31" y="455" width="3" height="5" fill="#fff"/>
<rect x="37" y="440" width="3" height="5" fill="#fff"/>
<rect x="37" y="455" width="3" height="5" fill="#fff"/>
<rect x="43" y="440" width="3" height="5" fill="#fff"/>
<rect x="43" y="455" width="3" height="5" fill="#fff"/>
<rect x="48" y="440" width="3" height="5" fill="#fff"/>
<rect x="48" y="455" width="3" height="5" fill="#fff"/>
<rect x="54" y="440" width="3" height="5" fill="#fff"/>
<rect x="54" y="455" width="3" height="5" fill="#fff"/>
<rect x="60" y="440" width="3" height="5" fill="#fff"/>
<rect x="60" y="455" width="3" height="5" fill="#fff"/>
<rect x="66" y="440" width="3" height="5" fill="#fff"/>
<rect x="66" y="455" width="3" height="5" fill="#fff"/>
<rect x="72" y="440" width="3" height="5" fill="#fff"/>
<rect x="72" y="455" width="3" height="5" fill="#fff"/>
<rect x="78" y="440" width="3" height="5" fill="#fff"/>
<rect x="78" y="455" width="3" height="5" fill="#fff"/>
<rect x="84" y="440" width="3" height="5" fill="#fff"/>
<rect x="84" y="455" width="3" height="5" fill="#fff"/>
<rect x="89" y="440" width="3" height="5" fill="#fff"/>
<rect x="89" y="455" width="3" height="5" fill="#fff"/>
<rect x="95" y="440" width="3" height="5" fill="#fff"/>
<rect x="95" y="455" width="3" height="5" fill="#fff"/>
<rect x="101" y="440" width="3" height="5" fill="#fff"/>
<rect x="101" y="455" width="3" height="5" fill="#fff"/>
<rect x="28" y="447" width="33" height="5" fill="#fff"/>
<rect x="66" y="447" width="34" height="5" fill="#fff"/>
<polygon points="107,446.5 104,448 104,451 107,452.5" fill="#fff"/>
<rect x="23" y="463" width="84" height="25" fill="#000"/>
<rect x="25" y="465" width="4" height="5" fill="#fff"/>
<rect x="25" y="481" width="4" height="5" fill="#fff"/>
<rect x="31" y="465" width="3" height="5" fill="#fff"/>
<rect x="31" y="481" width="3" height="5" fill="#fff"/>
<rect x="37" y="465" width="3" height="5" fill="#fff"/>
<rect x="37" y="481" width="3" height="5" fill="#fff"/>
<rect x="43" y="465" width="3" height="5" fill="#fff"/>
<rect x="43" y="481" width="3" height="5" fill="#fff"/>
<rect x="48" y="465" width="3" height="5" fill="#fff"/>
<rect x="48" y="481" width="3" height="5" fill="#fff"/>
<rect x="54" y="465" width="3" height="5" fill="#fff"/>
<rect x="54" y="481" width="3" height="5" fill="#fff"/>
<rect x="60" y="465" width="3" height="5" fill="#fff"/>
<rect x="60" y="481" width="3" height="5" fill="#fff"/>
<rect x="66" y="465" width="3" height="5" fill="#fff"/>
<rect x="66" y="481" width="3" height="5" fill="#fff"/>
<rect x="72" y="465" width="3" height="5" fill="#fff"/>
<rect x="72" y="481" width="3" height="5" fill="#fff"/>
<rect x="78" y="465" width="3" height="5" fill="#fff"/>
<rect x="78" y="481" width="3" height="5" fill="#fff"/>
<rect x="84" y="465" width="3" height="5" fill="#fff"/>
<rect x="84" y="481" width="3" height="5" fill="#fff"/>
<rect x="89" y="465" width="3" height="5" fill="#fff"/>
<rect x="89" y="481" width="3" height="5" fill="#fff"/>
<rect x="95" y="465" width="3" height="5" fill="#fff"/>
<rect x="95" y="481" width="3" height="5" fill="#fff"/>
<rect x="101" y="465" width="3" height="5" fill="#fff"/>
<rect x="101" y="481" width="3" height="5" fill="#fff"/>
<rect x="28" y="473" width="33" height="5" fill="#fff"/>
<rect x="66" y="473" width="34" height="5" fill="#fff"/>
<polygon points="107,472.5 104,474 104,477 107,478.5" fill="#fff"/>
<rect x="269" y="392" width="84" height="25" fill="#000"/>
<rect x="271" y="394" width="4" height="5" fill="#fff"/>
<rect x="271" y="410" width="4" height="5" fill="#fff"/>
<rect x="277" y="394" width="3" height="5" fill="#fff"/>
<rect x="277" y="410" width="3" height="5" fill="#fff"/>
<rect x="283" y="394" width="3" height="5" fill="#fff"/>
<rect x="283" y="410" width="3" height="5" fill="#fff"/>
<rect x="289" y="394" width="3" height="5" fill="#fff"/>
<rect x="289" y="410" width="3" height="5" fill="#fff"/>
<rect x="294" y="394" width="3" height="5" fill="#fff"/>
<rect x="294" y="410" width="3" height="5" fill="#fff"/>
<rect x="300" y="394" width="3" height="5" fill="#fff"/>
<rect x="300" y="410" width="3" height="5" fill="#fff"/>
<rect x="306" y="394" width="3" height="5" fill="#fff"/>
<rect x="306" y="410" width="3" height="5" fill="#fff"/>
<rect x="312" y="394" width="3" height="5" fill="#fff"/>
<rect x="312" y="410" width="3" height="5" fill="#fff"/>
<rect x="318" y="394" width="3" height="5" fill="#fff"/>
<rect x="318" y="410" width="3" height="5" fill="#fff"/>
<rect x="324" y="394" width="3" height="5" fill="#fff"/>
<rect x="324" y="410" width="3" height="5" fill="#fff"/>
<rect x="330" y="394" width="3" height="5" fill="#fff"/>
<rect x="330" y="410" width="3" height="5" fill="#fff"/>
<rect x="335" y="394" width="3" height="5" fill="#fff"/>
<rect x="335" y="410" width="3" height="5" fill="#fff"/>
<rect x="341" y="394" width="3" height="5" fill="#fff"/>
<rect x="341" y="410" width="3" height="5" fill="#fff"/>
<rect x="347" y="394" width="3" height="5" fill="#fff"/>
<rect x="347" y="410" width="3" height="5" fill="#fff"/>
<rect x="274" y="402" width="33" height="5" fill="#fff"/>
<rect x="312" y="402" width="34" height="5" fill="#fff"/>
<polygon points="353,401.5 350,403 350,406 353,407.5" fill="#fff"/>
<rect x="269" y="418" width="84" height="24" fill="#000"/>
<rect x="271" y="420" width="4" height="5" fill="#fff"/>
<rect x="271" y="435" width="4" height="5" fill="#fff"/>
<rect x="277" y="420" width="3" height="5" fill="#fff"/>
<rect x="277" y="435" width="3" height="5" fill="#fff"/>
<rect x="283" y="420" width="3" height="5" fill="#fff"/>
<rect x="283" y="435" width="3" height="5" fill="#fff"/>
<rect x="289" y="420" width="3" height="5" fill="#fff"/>
<rect x="289" y="435" width="3" height="5" fill="#fff"/>
<rect x="294" y="420" width="3" height="5" fill="#fff"/>
<rect x="294" y="435" width="3" height="5" fill="#fff"/>
<rect x="300" y="420" width="3" height="5" fill="#fff"/>
<rect x="300" y="435" width="3" height="5" fill="#fff"/>
<rect x="306" y="420" width="3" height="5" fill="#fff"/>
<rect x="306" y="435" width="3" height="5" fill="#fff"/>
<rect x="312" y="420" width="3" height="5" fill="#fff"/>
<rect x="312" y="435" width="3" height="5" fill="#fff"/>
<rect x="318" y="420" width="3" height="5" fill="#fff"/>
<rect x="318" y="435" width="3" height="5" fill="#fff"/>
<rect x="324" y="420" width="3" height="5" fill="#fff"/>
<rect x="324" y="435" width="3" height="5" fill="#fff"/>
<rect x="330" y="420" width="3" height="5" fill="#fff"/>
<rect x="330" y="435" width="3" height="5" fill="#fff"/>
<rect x="335" y="420" width="3" height="5" fill="#fff"/>
<rect x="335" y="435" width="3" height="5" fill="#fff"/>
<rect x="341" y="420" width="3" height="5" fill="#fff"/>
<rect x="341" y="435" width="3" height="5" fill="#fff"/>
<rect x="347" y="420" width="3" height="5" fill="#fff"/>
<rect x="347" y="435" width="3" height="5" fill="#fff"/>
<rect x="274" y="427" width="33" height="5" fill="#fff"/>
<rect x="312" y="427" width="34" height="5" fill="#fff"/>
<polygon points="353,426.5 350,428 350,431 353,432.5" fill="#fff"/>
<rect x="269" y="446" width="84" height="24" fill="#000"/>
<rect x="271" y="448" width="4" height="5" fill="#fff"/>
<rect x="271" y="463" width="4" height="5" fill="#fff"/>
<rect x="277" y="448" width="3" height="5" fill="#fff"/>
<rect x="277" y="463" width="3" height="5" fill="#fff"/>
<rect x="283" y="448" width="3" height="5" fill="#fff"/>
<rect x="283" y="463" width="3" height="5" fill="#fff"/>
<rect x="289" y="448" width="3" height="5" fill="#fff"/>
<rect x="289" y="463" width="3" height="5" fill="#fff"/>
<rect x="294" y="448" width="3" height="5" fill="#fff"/>
<rect x="294" y="463" width="3" height="5" fill="#fff"/>
<rect x="300" y="448" width="3" height="5" fill="#fff"/>
<rect x="300" y="463" width="3" height="5" fill="#fff"/>
<rect x="306" y="448" width="3" height="5" fill="#fff"/>
<rect x="306" y="463" width="3" height="5" fill="#fff"/>
<rect x="312" y="448" width="3" height="5" fill="#fff"/>
<rect x="312" y="463" width="3" height="5" fill="#fff"/>
<rect x="318" y="448" width="3" height="5" fill="#fff"/>
<rect x="318" y="463" width="3" height="5" fill="#fff"/>
<rect x="324" y="448" width="3" height="5" fill="#fff"/>
<rect x="324" y="463" width="3" height="5" fill="#fff"/>
<rect x="330" y="448" width="3" height="5" fill="#fff"/>
<rect x="330" y="463" width="3" height="5" fill="#fff"/>
<rect x="335" y="448" width="3" height="5" fill="#fff"/>
<rect x="335" y="463" width="3" height="5" fill="#fff"/>
<rect x="341" y="448" width="3" height="5" fill="#fff"/>
<rect x="341" y="463" width="3" height="5" fill="#fff"/>
<rect x="347" y="448" width="3" height="5" fill="#fff"/>
<rect x="347" y="463" width="3" height="5" fill="#fff"/>
<rect x="274" y="455" width="33" height="5" fill="#fff"/>
<rect x="312" y="455" width="34" height="5" fill="#fff"/>
<polygon points="353,454.5 350,456 350,459 353,460.5" fill="#fff"/>
<rect x="269" y="471" width="84" height="25" fill="#000"/>
<rect x="271" y="473" width="4" height="5" fill="#fff"/>
<rect x="271" y="489" width="4" height="5" fill="#fff"/>
<rect x="277" y="473" width="3" height="5" fill="#fff"/>
<rect x="277" y="489" width="3" height="5" fill="#fff"/>
<rect x="283" y="473" width="3" height="5" fill="#fff"/>
<rect x="283" y="489" width="3" height="5" fill="#fff"/>
<rect x="289" y="473" width="3" height="5" fill="#fff"/>
<rect x="289" y="489" width="3" height="5" fill="#fff"/>
<rect x="294" y="473" width="3" height="5" fill="#fff"/>
<rect x="294" y="489" width="3" height="5" fill="#fff"/>
<rect x="300" y="473" width="3" height="5" fill="#fff"/>
<rect x="300" y="489" width="3" height="5" fill="#fff"/>
<rect x="306" y="473" width="3" height="5" fill="#fff"/>
<rect x="306" y="489" width="3" height="5" fill="#fff"/>
<rect x="312" y="473" width="3" height="5" fill="#fff"/>
<rect x="312" y="489" width="3" height="5" fill="#fff"/>
<rect x="318" y="473" width="3" height="5" fill="#fff"/>
<rect x="318" y="489" width="3" height="5" fill="#fff"/>
<rect x="324" y="473" width="3" height="5" fill="#fff"/>
<rect x="324" y="489" width="3" height="5" fill="#fff"/>
<rect x="330" y="473" width="3" height="5" fill="#fff"/>
<rect x="330" y="489" width="3" height="5" fill="#fff"/>
<rect x="335" y="473" width="3" height="5" fill="#fff"/>
<rect x="335" y="489" width="3" height="5" fill="#fff"/>
<rect x="341" y="473" width="3" height="5" fill="#fff"/>
<rect x="341" y="489" width="3" height="5" fill="#fff"/>
<rect x="347" y="473" width="3" height="5" fill="#fff"/>
<rect x="347" y="489" width="3" height="5" fill="#fff"/>
<rect x="274" y="481" width="33" height="5" fill="#fff"/>
<rect x="312" y="481" width="34" height="5" fill="#fff"/>
<polygon points="353,480.5 350,482 350,485 353,486.5" fill="#fff"/>
<rect x="282" y="408" width="59" height="18" fill="#000"/>
<rect x="284" y="410" width="55" height="14" fill="#fff"/>
<rect x="282" y="461" width="59" height="18" fill="#000"/>
<rect x="284" y="463" width="55" height="14" fill="#fff"/>
<rect x="293" y="434" width="37" height="20" fill="#000"/>
<polygon points="298,437 324,437 325,438 325,450 324,451 298,451 297,450 297,438" fill="#fff"/>
<polygon points="58.5,293 71.5,293 73,294.5 73,367.5 71.5,369 58.5,369 57,367.5 57,294.5" fill="#000"/>
<rect x="58.5" y="295" width="13" height="72" fill="#fff"/>
<polygon points="58.5,397 71.5,397 73,398.5 73,471.5 71.5,473 58.5,473 57,471.5 57,398.5" fill="#000"/>
<rect x="58.5" y="399" width="13" height="72" fill="#fff"/>
<rect x="39" y="375" width="52" height="18" fill="#000"/>
<rect x="41" y="377" width="48" height="14" fill="#fff"/>
<rect x="458" y="297" width="126" height="43" fill="#000"/>
<rect x="582" y="312" width="2" height="12" fill="#fff"/>
<line x1="461" y1="337.5" x2="582" y2="337.5" stroke="#fff" stroke-width="1" stroke-dasharray="3.2 3"/>
<rect x="508" y="310" width="26" height="14.5" fill="#fff"/>
<rect x="601" y="297" width="89" height="40" fill="#000"/>
<rect x="688" y="312" width="2" height="12" fill="#fff"/>
<polygon points="626.5,310 663.5,310 665,311.5 665,323 663.5,324.5 626.5,324.5 625,323 625,311.5" fill="#fff"/>
<rect x="419.5" y="355.5" width="225" height="18" fill="#fff" stroke="#000" stroke-width="1"/>
<rect x="419.5" y="355.5" width="6" height="7" fill="none" stroke="#000"/>
<rect x="418.5" y="362.5" width="7" height="7" fill="#fff" stroke="#000"/>
<rect x="427" y="355" width="3" height="16" fill="#000"/>
<path d="M430.5 356.5H436.5V361.5H439.5V369.5H430.5" fill="none" stroke="#000"/>
<path d="M432 358V361H436" fill="none" stroke="#000" stroke-width="2"/>
<rect x="632" y="355" width="4" height="16" fill="#000"/>
<line x1="636" y1="362.5" x2="644" y2="362.5" stroke="#000" stroke-width="1"/>
<line x1="636" y1="369.5" x2="644" y2="369.5" stroke="#000" stroke-width="1"/>
<path d="M632 369.5H623.5V361.5H626.5V356.5H632" fill="none" stroke="#000"/>
<path d="M626 361H630V358H632" fill="none" stroke="#000" stroke-width="2"/>
<rect x="444" y="357" width="174" height="7" fill="#000"/>
<rect x="443" y="364" width="176" height="8" fill="#000"/>
<rect x="444" y="364" width="1" height="6" fill="#fff"/>
<rect x="447" y="364" width="4" height="6" fill="#fff"/>
<rect x="448" y="358" width="2" height="5" fill="#fff"/>
<rect x="447" y="371" width="4" height="1" fill="#fff"/>
<rect x="453" y="364" width="4" height="6" fill="#fff"/>
<rect x="454" y="358" width="1" height="5" fill="#fff"/>
<rect x="453" y="371" width="4" height="1" fill="#fff"/>
<rect x="458" y="364" width="4" height="6" fill="#fff"/>
<rect x="460" y="358" width="1" height="5" fill="#fff"/>
<rect x="458" y="371" width="4" height="1" fill="#fff"/>
<rect x="464" y="364" width="4" height="6" fill="#fff"/>
<rect x="466" y="358" width="2" height="5" fill="#fff"/>
<rect x="464" y="371" width="4" height="1" fill="#fff"/>
<rect x="470" y="364" width="4" height="6" fill="#fff"/>
<rect x="472" y="358" width="1" height="5" fill="#fff"/>
<rect x="470" y="371" width="4" height="1" fill="#fff"/>
<rect x="476" y="364" width="4" height="6" fill="#fff"/>
<rect x="477" y="358" width="1" height="5" fill="#fff"/>
<rect x="476" y="371" width="4" height="1" fill="#fff"/>
<rect x="482" y="364" width="4" height="6" fill="#fff"/>
<rect x="483" y="358" width="2" height="5" fill="#fff"/>
<rect x="482" y="371" width="4" height="1" fill="#fff"/>
<rect x="488" y="364" width="4" height="6" fill="#fff"/>
<rect x="489" y="358" width="1" height="5" fill="#fff"/>
<rect x="488" y="371" width="4" height="1" fill="#fff"/>
<rect x="493" y="364" width="4" height="6" fill="#fff"/>
<rect x="495" y="358" width="1" height="5" fill="#fff"/>
<rect x="493" y="371" width="4" height="1" fill="#fff"/>
<rect x="499" y="364" width="4" height="6" fill="#fff"/>
<rect x="501" y="358" width="2" height="5" fill="#fff"/>
<rect x="499" y="371" width="4" height="1" fill="#fff"/>
<rect x="505" y="364" width="4" height="6" fill="#fff"/>
<rect x="506" y="358" width="1" height="5" fill="#fff"/>
<rect x="505" y="371" width="4" height="1" fill="#fff"/>
<rect x="511" y="364" width="4" height="6" fill="#fff"/>
<rect x="512" y="358" width="1" height="5" fill="#fff"/>
<rect x="511" y="371" width="4" height="1" fill="#fff"/>
<rect x="517" y="364" width="4" height="6" fill="#fff"/>
<rect x="518" y="358" width="2" height="5" fill="#fff"/>
<rect x="517" y="371" width="4" height="1" fill="#fff"/>
<rect x="522" y="364" width="4" height="6" fill="#fff"/>
<rect x="524" y="358" width="1" height="5" fill="#fff"/>
<rect x="522" y="371" width="4" height="1" fill="#fff"/>
<rect x="528" y="364" width="4" height="6" fill="#fff"/>
<rect x="530" y="358" width="1" height="5" fill="#fff"/>
<rect x="528" y="371" width="4" height="1" fill="#fff"/>
<rect x="534" y="364" width="4" height="6" fill="#fff"/>
<rect x="536" y="358" width="2" height="5" fill="#fff"/>
<rect x="534" y="371" width="4" height="1" fill="#fff"/>
<rect x="540" y="364" width="4" height="6" fill="#fff"/>
<rect x="541" y="358" width="1" height="5" fill="#fff"/>
<rect x="540" y="371" width="4" height="1" fill="#fff"/>
<rect x="546" y="364" width="4" height="6" fill="#fff"/>
<rect x="547" y="358" width="1" height="5" fill="#fff"/>
<rect x="546" y="371" width="4" height="1" fill="#fff"/>
<rect x="552" y="364" width="4" height="6" fill="#fff"/>
<rect x="553" y="358" width="2" height="5" fill="#fff"/>
<rect x="552" y="371" width="4" height="1" fill="#fff"/>
<rect x="557" y="364" width="4" height="6" fill="#fff"/>
<rect x="559" y="358" width="1" height="5" fill="#fff"/>
<rect x="557" y="371" width="4" height="1" fill="#fff"/>
<rect x="563" y="364" width="4" height="6" fill="#fff"/>
<rect x="565" y="358" width="1" height="5" fill="#fff"/>
<rect x="563" y="371" width="4" height="1" fill="#fff"/>
<rect x="569" y="364" width="4" height="6" fill="#fff"/>
<rect x="571" y="358" width="2" height="5" fill="#fff"/>
<rect x="569" y="371" width="4" height="1" fill="#fff"/>
<rect x="575" y="364" width="4" height="6" fill="#fff"/>
<rect x="576" y="358" width="1" height="5" fill="#fff"/>
<rect x="575" y="371" width="4" height="1" fill="#fff"/>
<rect x="581" y="364" width="4" height="6" fill="#fff"/>
<rect x="582" y="358" width="1" height="5" fill="#fff"/>
<rect x="581" y="371" width="4" height="1" fill="#fff"/>
<rect x="587" y="364" width="4" height="6" fill="#fff"/>
<rect x="588" y="358" width="2" height="5" fill="#fff"/>
<rect x="587" y="371" width="4" height="1" fill="#fff"/>
<rect x="592" y="364" width="4" height="6" fill="#fff"/>
<rect x="594" y="358" width="1" height="5" fill="#fff"/>
<rect x="592" y="371" width="4" height="1" fill="#fff"/>
<rect x="598" y="364" width="4" height="6" fill="#fff"/>
<rect x="600" y="358" width="1" height="5" fill="#fff"/>
<rect x="598" y="371" width="4" height="1" fill="#fff"/>
<rect x="604" y="364" width="4" height="6" fill="#fff"/>
<rect x="606" y="358" width="2" height="5" fill="#fff"/>
<rect x="604" y="371" width="4" height="1" fill="#fff"/>
<rect x="610" y="364" width="4" height="6" fill="#fff"/>
<rect x="611" y="358" width="1" height="5" fill="#fff"/>
<rect x="610" y="371" width="4" height="1" fill="#fff"/>
<rect x="616" y="364" width="4" height="6" fill="#fff"/>
<rect x="617" y="358" width="1" height="5" fill="#fff"/>
<rect x="616" y="371" width="4" height="1" fill="#fff"/>
<rect x="419.5" y="375.5" width="225" height="18" fill="#fff" stroke="#000" stroke-width="1"/>
<rect x="419.5" y="375.5" width="6" height="7" fill="none" stroke="#000"/>
<rect x="418.5" y="382.5" width="7" height="7" fill="#fff" stroke="#000"/>
<rect x="427" y="375" width="3" height="16" fill="#000"/>
<path d="M430.5 376.5H436.5V381.5H439.5V389.5H430.5" fill="none" stroke="#000"/>
<path d="M432 378V381H436" fill="none" stroke="#000" stroke-width="2"/>
<rect x="632" y="375" width="4" height="16" fill="#000"/>
<line x1="636" y1="382.5" x2="644" y2="382.5" stroke="#000" stroke-width="1"/>
<line x1="636" y1="389.5" x2="644" y2="389.5" stroke="#000" stroke-width="1"/>
<path d="M632 389.5H623.5V381.5H626.5V376.5H632" fill="none" stroke="#000"/>
<path d="M626 381H630V378H632" fill="none" stroke="#000" stroke-width="2"/>
<rect x="444" y="377" width="174" height="7" fill="#000"/>
<rect x="443" y="384" width="176" height="8" fill="#000"/>
<rect x="444" y="384" width="1" height="6" fill="#fff"/>
<rect x="447" y="384" width="4" height="6" fill="#fff"/>
<rect x="448" y="378" width="2" height="5" fill="#fff"/>
<rect x="447" y="391" width="4" height="1" fill="#fff"/>
<rect x="453" y="384" width="4" height="6" fill="#fff"/>
<rect x="454" y="378" width="1" height="5" fill="#fff"/>
<rect x="453" y="391" width="4" height="1" fill="#fff"/>
<rect x="458" y="384" width="4" height="6" fill="#fff"/>
<rect x="460" y="378" width="1" height="5" fill="#fff"/>
<rect x="458" y="391" width="4" height="1" fill="#fff"/>
<rect x="464" y="384" width="4" height="6" fill="#fff"/>
<rect x="466" y="378" width="2" height="5" fill="#fff"/>
<rect x="464" y="391" width="4" height="1" fill="#fff"/>
<rect x="470" y="384" width="4" height="6" fill="#fff"/>
<rect x="472" y="378" width="1" height="5" fill="#fff"/>
<rect x="470" y="391" width="4" height="1" fill="#fff"/>
<rect x="476" y="384" width="4" height="6" fill="#fff"/>
<rect x="477" y="378" width="1" height="5" fill="#fff"/>
<rect x="476" y="391" width="4" height="1" fill="#fff"/>
<rect x="482" y="384" width="4" height="6" fill="#fff"/>
<rect x="483" y="378" width="2" height="5" fill="#fff"/>
<rect x="482" y="391" width="4" height="1" fill="#fff"/>
<rect x="488" y="384" width="4" height="6" fill="#fff"/>
<rect x="489" y="378" width="1" height="5" fill="#fff"/>
<rect x="488" y="391" width="4" height="1" fill="#fff"/>
<rect x="493" y="384" width="4" height="6" fill="#fff"/>
<rect x="495" y="378" width="1" height="5" fill="#fff"/>
<rect x="493" y="391" width="4" height="1" fill="#fff"/>
<rect x="499" y="384" width="4" height="6" fill="#fff"/>
<rect x="501" y="378" width="2" height="5" fill="#fff"/>
<rect x="499" y="391" width="4" height="1" fill="#fff"/>
<rect x="505" y="384" width="4" height="6" fill="#fff"/>
<rect x="506" y="378" width="1" height="5" fill="#fff"/>
<rect x="505" y="391" width="4" height="1" fill="#fff"/>
<rect x="511" y="384" width="4" height="6" fill="#fff"/>
<rect x="512" y="378" width="1" height="5" fill="#fff"/>
<rect x="511" y="391" width="4" height="1" fill="#fff"/>
<rect x="517" y="384" width="4" height="6" fill="#fff"/>
<rect x="518" y="378" width="2" height="5" fill="#fff"/>
<rect x="517" y="391" width="4" height="1" fill="#fff"/>
<rect x="522" y="384" width="4" height="6" fill="#fff"/>
<rect x="524" y="378" width="1" height="5" fill="#fff"/>
<rect x="522" y="391" width="4" height="1" fill="#fff"/>
<rect x="528" y="384" width="4" height="6" fill="#fff"/>
<rect x="530" y="378" width="1" height="5" fill="#fff"/>
<rect x="528" y="391" width="4" height="1" fill="#fff"/>
<rect x="534" y="384" width="4" height="6" fill="#fff"/>
<rect x="536" y="378" width="2" height="5" fill="#fff"/>
<rect x="534" y="391" width="4" height="1" fill="#fff"/>
<rect x="540" y="384" width="4" height="6" fill="#fff"/>
<rect x="541" y="378" width="1" height="5" fill="#fff"/>
<rect x="540" y="391" width="4" height="1" fill="#fff"/>
<rect x="546" y="384" width="4" height="6" fill="#fff"/>
<rect x="547" y="378" width="1" height="5" fill="#fff"/>
<rect x="546" y="391" width="4" height="1" fill="#fff"/>
<rect x="552" y="384" width="4" height="6" fill="#fff"/>
<rect x="553" y="378" width="2" height="5" fill="#fff"/>
<rect x="552" y="391" width="4" height="1" fill="#fff"/>
<rect x="557" y="384" width="4" height="6" fill="#fff"/>
<rect x="559" y="378" width="1" height="5" fill="#fff"/>
<rect x="557" y="391" width="4" height="1" fill="#fff"/>
<rect x="563" y="384" width="4" height="6" fill="#fff"/>
<rect x="565" y="378" width="1" height="5" fill="#fff"/>
<rect x="563" y="391" width="4" height="1" fill="#fff"/>
<rect x="569" y="384" width="4" height="6" fill="#fff"/>
<rect x="571" y="378" width="2" height="5" fill="#fff"/>
<rect x="569" y="391" width="4" height="1" fill="#fff"/>
<rect x="575" y="384" width="4" height="6" fill="#fff"/>
<rect x="576" y="378" width="1" height="5" fill="#fff"/>
<rect x="575" y="391" width="4" height="1" fill="#fff"/>
<rect x="581" y="384" width="4" height="6" fill="#fff"/>
<rect x="582" y="378" width="1" height="5" fill="#fff"/>
<rect x="581" y="391" width="4" height="1" fill="#fff"/>
<rect x="587" y="384" width="4" height="6" fill="#fff"/>
<rect x="588" y="378" width="2" height="5" fill="#fff"/>
<rect x="587" y="391" width="4" height="1" fill="#fff"/>
<rect x="592" y="384" width="4" height="6" fill="#fff"/>
<rect x="594" y="378" width="1" height="5" fill="#fff"/>
<rect x="592" y="391" width="4" height="1" fill="#fff"/>
<rect x="598" y="384" width="4" height="6" fill="#fff"/>
<rect x="600" y="378" width="1" height="5" fill="#fff"/>
<rect x="598" y="391" width="4" height="1" fill="#fff"/>
<rect x="604" y="384" width="4" height="6" fill="#fff"/>
<rect x="606" y="378" width="2" height="5" fill="#fff"/>
<rect x="604" y="391" width="4" height="1" fill="#fff"/>
<rect x="610" y="384" width="4" height="6" fill="#fff"/>
<rect x="611" y="378" width="1" height="5" fill="#fff"/>
<rect x="610" y="391" width="4" height="1" fill="#fff"/>
<rect x="616" y="384" width="4" height="6" fill="#fff"/>
<rect x="617" y="378" width="1" height="5" fill="#fff"/>
<rect x="616" y="391" width="4" height="1" fill="#fff"/>
<rect x="419.5" y="395.5" width="225" height="18" fill="#fff" stroke="#000" stroke-width="1"/>
<rect x="419.5" y="395.5" width="6" height="7" fill="none" stroke="#000"/>
<rect x="418.5" y="402.5" width="7" height="7" fill="#fff" stroke="#000"/>
<rect x="427" y="395" width="3" height="16" fill="#000"/>
<path d="M430.5 396.5H436.5V401.5H439.5V409.5H430.5" fill="none" stroke="#000"/>
<path d="M432 398V401H436" fill="none" stroke="#000" stroke-width="2"/>
<rect x="632" y="395" width="4" height="16" fill="#000"/>
<line x1="636" y1="402.5" x2="644" y2="402.5" stroke="#000" stroke-width="1"/>
<line x1="636" y1="409.5" x2="644" y2="409.5" stroke="#000" stroke-width="1"/>
<path d="M632 409.5H623.5V401.5H626.5V396.5H632" fill="none" stroke="#000"/>
<path d="M626 401H630V398H632" fill="none" stroke="#000" stroke-width="2"/>
<rect x="444" y="397" width="174" height="7" fill="#000"/>
<rect x="443" y="404" width="176" height="8" fill="#000"/>
<rect x="444" y="404" width="1" height="6" fill="#fff"/>
<rect x="447" y="404" width="4" height="6" fill="#fff"/>
<rect x="448" y="398" width="2" height="5" fill="#fff"/>
<rect x="447" y="411" width="4" height="1" fill="#fff"/>
<rect x="453" y="404" width="4" height="6" fill="#fff"/>
<rect x="454" y="398" width="1" height="5" fill="#fff"/>
<rect x="453" y="411" width="4" height="1" fill="#fff"/>
<rect x="458" y="404" width="4" height="6" fill="#fff"/>
<rect x="460" y="398" width="1" height="5" fill="#fff"/>
<rect x="458" y="411" width="4" height="1" fill="#fff"/>
<rect x="464" y="404" width="4" height="6" fill="#fff"/>
<rect x="466" y="398" width="2" height="5" fill="#fff"/>
<rect x="464" y="411" width="4" height="1" fill="#fff"/>
<rect x="470" y="404" width="4" height="6" fill="#fff"/>
<rect x="472" y="398" width="1" height="5" fill="#fff"/>
<rect x="470" y="411" width="4" height="1" fill="#fff"/>
<rect x="476" y="404" width="4" height="6" fill="#fff"/>
<rect x="477" y="398" width="1" height="5" fill="#fff"/>
<rect x="476" y="411" width="4" height="1" fill="#fff"/>
<rect x="482" y="404" width="4" height="6" fill="#fff"/>
<rect x="483" y="398" width="2" height="5" fill="#fff"/>
<rect x="482" y="411" width="4" height="1" fill="#fff"/>
<rect x="488" y="404" width="4" height="6" fill="#fff"/>
<rect x="489" y="398" width="1" height="5" fill="#fff"/>
<rect x="488" y="411" width="4" height="1" fill="#fff"/>
<rect x="493" y="404" width="4" height="6" fill="#fff"/>
<rect x="495" y="398" width="1" height="5" fill="#fff"/>
<rect x="493" y="411" width="4" height="1" fill="#fff"/>
<rect x="499" y="404" width="4" height="6" fill="#fff"/>
<rect x="501" y="398" width="2" height="5" fill="#fff"/>
<rect x="499" y="411" width="4" height="1" fill="#fff"/>
<rect x="505" y="404" width="4" height="6" fill="#fff"/>
<rect x="506" y="398" width="1" height="5" fill="#fff"/>
<rect x="505" y="411" width="4" height="1" fill="#fff"/>
<rect x="511" y="404" width="4" height="6" fill="#fff"/>
<rect x="512" y="398" width="1" height="5" fill="#fff"/>
<rect x="511" y="411" width="4" height="1" fill="#fff"/>
<rect x="517" y="404" width="4" height="6" fill="#fff"/>
<rect x="518" y="398" width="2" height="5" fill="#fff"/>
<rect x="517" y="411" width="4" height="1" fill="#fff"/>
<rect x="522" y="404" width="4" height="6" fill="#fff"/>
<rect x="524" y="398" width="1" height="5" fill="#fff"/>
<rect x="522" y="411" width="4" height="1" fill="#fff"/>
<rect x="528" y="404" width="4" height="6" fill="#fff"/>
<rect x="530" y="398" width="1" height="5" fill="#fff"/>
<rect x="528" y="411" width="4" height="1" fill="#fff"/>
<rect x="534" y="404" width="4" height="6" fill="#fff"/>
<rect x="536" y="398" width="2" height="5" fill="#fff"/>
<rect x="534" y="411" width="4" height="1" fill="#fff"/>
<rect x="540" y="404" width="4" height="6" fill="#fff"/>
<rect x="541" y="398" width="1" height="5" fill="#fff"/>
<rect x="540" y="411" width="4" height="1" fill="#fff"/>
<rect x="546" y="404" width="4" height="6" fill="#fff"/>
<rect x="547" y="398" width="1" height="5" fill="#fff"/>
<rect x="546" y="411" width="4" height="1" fill="#fff"/>
<rect x="552" y="404" width="4" height="6" fill="#fff"/>
<rect x="553" y="398" width="2" height="5" fill="#fff"/>
<rect x="552" y="411" width="4" height="1" fill="#fff"/>
<rect x="557" y="404" width="4" height="6" fill="#fff"/>
<rect x="559" y="398" width="1" height="5" fill="#fff"/>
<rect x="557" y="411" width="4" height="1" fill="#fff"/>
<rect x="563" y="404" width="4" height="6" fill="#fff"/>
<rect x="565" y="398" width="1" height="5" fill="#fff"/>
<rect x="563" y="411" width="4" height="1" fill="#fff"/>
<rect x="569" y="404" width="4" height="6" fill="#fff"/>
<rect x="571" y="398" width="2" height="5" fill="#fff"/>
<rect x="569" y="411" width="4" height="1" fill="#fff"/>
<rect x="575" y="404" width="4" height="6" fill="#fff"/>
<rect x="576" y="398" width="1" height="5" fill="#fff"/>
<rect x="575" y="411" width="4" height="1" fill="#fff"/>
<rect x="581" y="404" width="4" height="6" fill="#fff"/>
<rect x="582" y="398" width="1" height="5" fill="#fff"/>
<rect x="581" y="411" width="4" height="1" fill="#fff"/>
<rect x="587" y="404" width="4" height="6" fill="#fff"/>
<rect x="588" y="398" width="2" height="5" fill="#fff"/>
<rect x="587" y="411" width="4" height="1" fill="#fff"/>
<rect x="592" y="404" width="4" height="6" fill="#fff"/>
<rect x="594" y="398" width="1" height="5" fill="#fff"/>
<rect x="592" y="411" width="4" height="1" fill="#fff"/>
<rect x="598" y="404" width="4" height="6" fill="#fff"/>
<rect x="600" y="398" width="1" height="5" fill="#fff"/>
<rect x="598" y="411" width="4" height="1" fill="#fff"/>
<rect x="604" y="404" width="4" height="6" fill="#fff"/>
<rect x="606" y="398" width="2" height="5" fill="#fff"/>
<rect x="604" y="411" width="4" height="1" fill="#fff"/>
<rect x="610" y="404" width="4" height="6" fill="#fff"/>
<rect x="611" y="398" width="1" height="5" fill="#fff"/>
<rect x="610" y="411" width="4" height="1" fill="#fff"/>
<rect x="616" y="404" width="4" height="6" fill="#fff"/>
<rect x="617" y="398" width="1" height="5" fill="#fff"/>
<rect x="616" y="411" width="4" height="1" fill="#fff"/>
<rect x="419.5" y="415.5" width="225" height="18" fill="#fff" stroke="#000" stroke-width="1"/>
<rect x="419.5" y="415.5" width="6" height="7" fill="none" stroke="#000"/>
<rect x="418.5" y="422.5" width="7" height="7" fill="#fff" stroke="#000"/>
<rect x="427" y="415" width="3" height="16" fill="#000"/>
<path d="M430.5 416.5H436.5V421.5H439.5V429.5H430.5" fill="none" stroke="#000"/>
<path d="M432 418V421H436" fill="none" stroke="#000" stroke-width="2"/>
<rect x="632" y="415" width="4" height="16" fill="#000"/>
<line x1="636" y1="422.5" x2="644" y2="422.5" stroke="#000" stroke-width="1"/>
<line x1="636" y1="429.5" x2="644" y2="429.5" stroke="#000" stroke-width="1"/>
<path d="M632 429.5H623.5V421.5H626.5V416.5H632" fill="none" stroke="#000"/>
<path d="M626 421H630V418H632" fill="none" stroke="#000" stroke-width="2"/>
<rect x="444" y="417" width="174" height="7" fill="#000"/>
<rect x="443" y="424" width="176" height="8" fill="#000"/>
<rect x="444" y="424" width="1" height="6" fill="#fff"/>
<rect x="447" y="424" width="4" height="6" fill="#fff"/>
<rect x="448" y="418" width="2" height="5" fill="#fff"/>
<rect x="447" y="431" width="4" height="1" fill="#fff"/>
<rect x="453" y="424" width="4" height="6" fill="#fff"/>
<rect x="454" y="418" width="1" height="5" fill="#fff"/>
<rect x="453" y="431" width="4" height="1" fill="#fff"/>
<rect x="458" y="424" width="4" height="6" fill="#fff"/>
<rect x="460" y="418" width="1" height="5" fill="#fff"/>
<rect x="458" y="431" width="4" height="1" fill="#fff"/>
<rect x="464" y="424" width="4" height="6" fill="#fff"/>
<rect x="466" y="418" width="2" height="5" fill="#fff"/>
<rect x="464" y="431" width="4" height="1" fill="#fff"/>
<rect x="470" y="424" width="4" height="6" fill="#fff"/>
<rect x="472" y="418" width="1" height="5" fill="#fff"/>
<rect x="470" y="431" width="4" height="1" fill="#fff"/>
<rect x="476" y="424" width="4" height="6" fill="#fff"/>
<rect x="477" y="418" width="1" height="5" fill="#fff"/>
<rect x="476" y="431" width="4" height="1" fill="#fff"/>
<rect x="482" y="424" width="4" height="6" fill="#fff"/>
<rect x="483" y="418" width="2" height="5" fill="#fff"/>
<rect x="482" y="431" width="4" height="1" fill="#fff"/>
<rect x="488" y="424" width="4" height="6" fill="#fff"/>
<rect x="489" y="418" width="1" height="5" fill="#fff"/>
<rect x="488" y="431" width="4" height="1" fill="#fff"/>
<rect x="493" y="424" width="4" height="6" fill="#fff"/>
<rect x="495" y="418" width="1" height="5" fill="#fff"/>
<rect x="493" y="431" width="4" height="1" fill="#fff"/>
<rect x="499" y="424" width="4" height="6" fill="#fff"/>
<rect x="501" y="418" width="2" height="5" fill="#fff"/>
<rect x="499" y="431" width="4" height="1" fill="#fff"/>
<rect x="505" y="424" width="4" height="6" fill="#fff"/>
<rect x="506" y="418" width="1" height="5" fill="#fff"/>
<rect x="505" y="431" width="4" height="1" fill="#fff"/>
<rect x="511" y="424" width="4" height="6" fill="#fff"/>
<rect x="512" y="418" width="1" height="5" fill="#fff"/>
<rect x="511" y="431" width="4" height="1" fill="#fff"/>
<rect x="517" y="424" width="4" height="6" fill="#fff"/>
<rect x="518" y="418" width="2" height="5" fill="#fff"/>
<rect x="517" y="431" width="4" height="1" fill="#fff"/>
<rect x="522" y="424" width="4" height="6" fill="#fff"/>
<rect x="524" y="418" width="1" height="5" fill="#fff"/>
<rect x="522" y="431" width="4" height="1" fill="#fff"/>
<rect x="528" y="424" width="4" height="6" fill="#fff"/>
<rect x="530" y="418" width="1" height="5" fill="#fff"/>
<rect x="528" y="431" width="4" height="1" fill="#fff"/>
<rect x="534" y="424" width="4" height="6" fill="#fff"/>
<rect x="536" y="418" width="2" height="5" fill="#fff"/>
<rect x="534" y="431" width="4" height="1" fill="#fff"/>
<rect x="540" y="424" width="4" height="6" fill="#fff"/>
<rect x="541" y="418" width="1" height="5" fill="#fff"/>
<rect x="540" y="431" width="4" height="1" fill="#fff"/>
<rect x="546" y="424" width="4" height="6" fill="#fff"/>
<rect x="547" y="418" width="1" height="5" fill="#fff"/>
<rect x="546" y="431" width="4" height="1" fill="#fff"/>
<rect x="552" y="424" width="4" height="6" fill="#fff"/>
<rect x="553" y="418" width="2" height="5" fill="#fff"/>
<rect x="552" y="431" width="4" height="1" fill="#fff"/>
<rect x="557" y="424" width="4" height="6" fill="#fff"/>
<rect x="559" y="418" width="1" height="5" fill="#fff"/>
<rect x="557" y="431" width="4" height="1" fill="#fff"/>
<rect x="563" y="424" width="4" height="6" fill="#fff"/>
<rect x="565" y="418" width="1" height="5" fill="#fff"/>
<rect x="563" y="431" width="4" height="1" fill="#fff"/>
<rect x="569" y="424" width="4" height="6" fill="#fff"/>
<rect x="571" y="418" width="2" height="5" fill="#fff"/>
<rect x="569" y="431" width="4" height="1" fill="#fff"/>
<rect x="575" y="424" width="4" height="6" fill="#fff"/>
<rect x="576" y="418" width="1" height="5" fill="#fff"/>
<rect x="575" y="431" width="4" height="1" fill="#fff"/>
<rect x="581" y="424" width="4" height="6" fill="#fff"/>
<rect x="582" y="418" width="1" height="5" fill="#fff"/>
<rect x="581" y="431" width="4" height="1" fill="#fff"/>
<rect x="587" y="424" width="4" height="6" fill="#fff"/>
<rect x="588" y="418" width="2" height="5" fill="#fff"/>
<rect x="587" y="431" width="4" height="1" fill="#fff"/>
<rect x="592" y="424" width="4" height="6" fill="#fff"/>
<rect x="594" y="418" width="1" height="5" fill="#fff"/>
<rect x="592" y="431" width="4" height="1" fill="#fff"/>
<rect x="598" y="424" width="4" height="6" fill="#fff"/>
<rect x="600" y="418" width="1" height="5" fill="#fff"/>
<rect x="598" y="431" width="4" height="1" fill="#fff"/>
<rect x="604" y="424" width="4" height="6" fill="#fff"/>
<rect x="606" y="418" width="2" height="5" fill="#fff"/>
<rect x="604" y="431" width="4" height="1" fill="#fff"/>
<rect x="610" y="424" width="4" height="6" fill="#fff"/>
<rect x="611" y="418" width="1" height="5" fill="#fff"/>
<rect x="610" y="431" width="4" height="1" fill="#fff"/>
<rect x="616" y="424" width="4" height="6" fill="#fff"/>
<rect x="617" y="418" width="1" height="5" fill="#fff"/>
<rect x="616" y="431" width="4" height="1" fill="#fff"/>
<rect x="419.5" y="435.5" width="225" height="18" fill="#fff" stroke="#000" stroke-width="1"/>
<rect x="419.5" y="435.5" width="6" height="7" fill="none" stroke="#000"/>
<rect x="418.5" y="442.5" width="7" height="7" fill="#fff" stroke="#000"/>
<rect x="427" y="435" width="3" height="16" fill="#000"/>
<path d="M430.5 436.5H436.5V441.5H439.5V449.5H430.5" fill="none" stroke="#000"/>
<path d="M432 438V441H436" fill="none" stroke="#000" stroke-width="2"/>
<rect x="632" y="435" width="4" height="16" fill="#000"/>
<line x1="636" y1="442.5" x2="644" y2="442.5" stroke="#000" stroke-width="1"/>
<line x1="636" y1="449.5" x2="644" y2="449.5" stroke="#000" stroke-width="1"/>
<path d="M632 449.5H623.5V441.5H626.5V436.5H632" fill="none" stroke="#000"/>
<path d="M626 441H630V438H632" fill="none" stroke="#000" stroke-width="2"/>
<rect x="444" y="437" width="174" height="7" fill="#000"/>
<rect x="443" y="444" width="176" height="8" fill="#000"/>
<rect x="444" y="444" width="1" height="6" fill="#fff"/>
<rect x="447" y="444" width="4" height="6" fill="#fff"/>
<rect x="448" y="438" width="2" height="5" fill="#fff"/>
<rect x="447" y="451" width="4" height="1" fill="#fff"/>
<rect x="453" y="444" width="4" height="6" fill="#fff"/>
<rect x="454" y="438" width="1" height="5" fill="#fff"/>
<rect x="453" y="451" width="4" height="1" fill="#fff"/>
<rect x="458" y="444" width="4" height="6" fill="#fff"/>
<rect x="460" y="438" width="1" height="5" fill="#fff"/>
<rect x="458" y="451" width="4" height="1" fill="#fff"/>
<rect x="464" y="444" width="4" height="6" fill="#fff"/>
<rect x="466" y="438" width="2" height="5" fill="#fff"/>
<rect x="464" y="451" width="4" height="1" fill="#fff"/>
<rect x="470" y="444" width="4" height="6" fill="#fff"/>
<rect x="472" y="438" width="1" height="5" fill="#fff"/>
<rect x="470" y="451" width="4" height="1" fill="#fff"/>
<rect x="476" y="444" width="4" height="6" fill="#fff"/>
<rect x="477" y="438" width="1" height="5" fill="#fff"/>
<rect x="476" y="451" width="4" height="1" fill="#fff"/>
<rect x="482" y="444" width="4" height="6" fill="#fff"/>
<rect x="483" y="438" width="2" height="5" fill="#fff"/>
<rect x="482" y="451" width="4" height="1" fill="#fff"/>
<rect x="488" y="444" width="4" height="6" fill="#fff"/>
<rect x="489" y="438" width="1" height="5" fill="#fff"/>
<rect x="488" y="451" width="4" height="1" fill="#fff"/>
<rect x="493" y="444" width="4" height="6" fill="#fff"/>
<rect x="495" y="438" width="1" height="5" fill="#fff"/>
<rect x="493" y="451" width="4" height="1" fill="#fff"/>
<rect x="499" y="444" width="4" height="6" fill="#fff"/>
<rect x="501" y="438" width="2" height="5" fill="#fff"/>
<rect x="499" y="451" width="4" height="1" fill="#fff"/>
<rect x="505" y="444" width="4" height="6" fill="#fff"/>
<rect x="506" y="438" width="1" height="5" fill="#fff"/>
<rect x="505" y="451" width="4" height="1" fill="#fff"/>
<rect x="511" y="444" width="4" height="6" fill="#fff"/>
<rect x="512" y="438" width="1" height="5" fill="#fff"/>
<rect x="511" y="451" width="4" height="1" fill="#fff"/>
<rect x="517" y="444" width="4" height="6" fill="#fff"/>
<rect x="518" y="438" width="2" height="5" fill="#fff"/>
<rect x="517" y="451" width="4" height="1" fill="#fff"/>
<rect x="522" y="444" width="4" height="6" fill="#fff"/>
<rect x="524" y="438" width="1" height="5" fill="#fff"/>
<rect x="522" y="451" width="4" height="1" fill="#fff"/>
<rect x="528" y="444" width="4" height="6" fill="#fff"/>
<rect x="530" y="438" width="1" height="5" fill="#fff"/>
<rect x="528" y="451" width="4" height="1" fill="#fff"/>
<rect x="534" y="444" width="4" height="6" fill="#fff"/>
<rect x="536" y="438" width="2" height="5" fill="#fff"/>
<rect x="534" y="451" width="4" height="1" fill="#fff"/>
<rect x="540" y="444" width="4" height="6" fill="#fff"/>
<rect x="541" y="438" width="1" height="5" fill="#fff"/>
<rect x="540" y="451" width="4" height="1" fill="#fff"/>
<rect x="546" y="444" width="4" height="6" fill="#fff"/>
<rect x="547" y="438" width="1" height="5" fill="#fff"/>
<rect x="546" y="451" width="4" height="1" fill="#fff"/>
<rect x="552" y="444" width="4" height="6" fill="#fff"/>
<rect x="553" y="438" width="2" height="5" fill="#fff"/>
<rect x="552" y="451" width="4" height="1" fill="#fff"/>
<rect x="557" y="444" width="4" height="6" fill="#fff"/>
<rect x="559" y="438" width="1" height="5" fill="#fff"/>
<rect x="557" y="451" width="4" height="1" fill="#fff"/>
<rect x="563" y="444" width="4" height="6" fill="#fff"/>
<rect x="565" y="438" width="1" height="5" fill="#fff"/>
<rect x="563" y="451" width="4" height="1" fill="#fff"/>
<rect x="569" y="444" width="4" height="6" fill="#fff"/>
<rect x="571" y="438" width="2" height="5" fill="#fff"/>
<rect x="569" y="451" width="4" height="1" fill="#fff"/>
<rect x="575" y="444" width="4" height="6" fill="#fff"/>
<rect x="576" y="438" width="1" height="5" fill="#fff"/>
<rect x="575" y="451" width="4" height="1" fill="#fff"/>
<rect x="581" y="444" width="4" height="6" fill="#fff"/>
<rect x="582" y="438" width="1" height="5" fill="#fff"/>
<rect x="581" y="451" width="4" height="1" fill="#fff"/>
<rect x="587" y="444" width="4" height="6" fill="#fff"/>
<rect x="588" y="438" width="2" height="5" fill="#fff"/>
<rect x="587" y="451" width="4" height="1" fill="#fff"/>
<rect x="592" y="444" width="4" height="6" fill="#fff"/>
<rect x="594" y="438" width="1" height="5" fill="#fff"/>
<rect x="592" y="451" width="4" height="1" fill="#fff"/>
<rect x="598" y="444" width="4" height="6" fill="#fff"/>
<rect x="600" y="438" width="1" height="5" fill="#fff"/>
<rect x="598" y="451" width="4" height="1" fill="#fff"/>
<rect x="604" y="444" width="4" height="6" fill="#fff"/>
<rect x="606" y="438" width="2" height="5" fill="#fff"/>
<rect x="604" y="451" width="4" height="1" fill="#fff"/>
<rect x="610" y="444" width="4" height="6" fill="#fff"/>
<rect x="611" y="438" width="1" height="5" fill="#fff"/>
<rect x="610" y="451" width="4" height="1" fill="#fff"/>
<rect x="616" y="444" width="4" height="6" fill="#fff"/>
<rect x="617" y="438" width="1" height="5" fill="#fff"/>
<rect x="616" y="451" width="4" height="1" fill="#fff"/>
<rect x="419.5" y="455.5" width="225" height="18" fill="#fff" stroke="#000" stroke-width="1"/>
<rect x="419.5" y="455.5" width="6" height="7" fill="none" stroke="#000"/>
<rect x="418.5" y="462.5" width="7" height="7" fill="#fff" stroke="#000"/>
<rect x="427" y="455" width="3" height="16" fill="#000"/>
<path d="M430.5 456.5H436.5V461.5H439.5V469.5H430.5" fill="none" stroke="#000"/>
<path d="M432 458V461H436" fill="none" stroke="#000" stroke-width="2"/>
<rect x="632" y="455" width="4" height="16" fill="#000"/>
<line x1="636" y1="462.5" x2="644" y2="462.5" stroke="#000" stroke-width="1"/>
<line x1="636" y1="469.5" x2="644" y2="469.5" stroke="#000" stroke-width="1"/>
<path d="M632 469.5H623.5V461.5H626.5V456.5H632" fill="none" stroke="#000"/>
<path d="M626 461H630V458H632" fill="none" stroke="#000" stroke-width="2"/>
<rect x="444" y="457" width="174" height="7" fill="#000"/>
<rect x="443" y="464" width="176" height="8" fill="#000"/>
<rect x="444" y="464" width="1" height="6" fill="#fff"/>
<rect x="447" y="464" width="4" height="6" fill="#fff"/>
<rect x="448" y="458" width="2" height="5" fill="#fff"/>
<rect x="447" y="471" width="4" height="1" fill="#fff"/>
<rect x="453" y="464" width="4" height="6" fill="#fff"/>
<rect x="454" y="458" width="1" height="5" fill="#fff"/>
<rect x="453" y="471" width="4" height="1" fill="#fff"/>
<rect x="458" y="464" width="4" height="6" fill="#fff"/>
<rect x="460" y="458" width="1" height="5" fill="#fff"/>
<rect x="458" y="471" width="4" height="1" fill="#fff"/>
<rect x="464" y="464" width="4" height="6" fill="#fff"/>
<rect x="466" y="458" width="2" height="5" fill="#fff"/>
<rect x="464" y="471" width="4" height="1" fill="#fff"/>
<rect x="470" y="464" width="4" height="6" fill="#fff"/>
<rect x="472" y="458" width="1" height="5" fill="#fff"/>
<rect x="470" y="471" width="4" height="1" fill="#fff"/>
<rect x="476" y="464" width="4" height="6" fill="#fff"/>
<rect x="477" y="458" width="1" height="5" fill="#fff"/>
<rect x="476" y="471" width="4" height="1" fill="#fff"/>
<rect x="482" y="464" width="4" height="6" fill="#fff"/>
<rect x="483" y="458" width="2" height="5" fill="#fff"/>
<rect x="482" y="471" width="4" height="1" fill="#fff"/>
<rect x="488" y="464" width="4" height="6" fill="#fff"/>
<rect x="489" y="458" width="1" height="5" fill="#fff"/>
<rect x="488" y="471" width="4" height="1" fill="#fff"/>
<rect x="493" y="464" width="4" height="6" fill="#fff"/>
<rect x="495" y="458" width="1" height="5" fill="#fff"/>
<rect x="493" y="471" width="4" height="1" fill="#fff"/>
<rect x="499" y="464" width="4" height="6" fill="#fff"/>
<rect x="501" y="458" width="2" height="5" fill="#fff"/>
<rect x="499" y="471" width="4" height="1" fill="#fff"/>
<rect x="505" y="464" width="4" height="6" fill="#fff"/>
<rect x="506" y="458" width="1" height="5" fill="#fff"/>
<rect x="505" y="471" width="4" height="1" fill="#fff"/>
<rect x="511" y="464" width="4" height="6" fill="#fff"/>
<rect x="512" y="458" width="1" height="5" fill="#fff"/>
<rect x="511" y="471" width="4" height="1" fill="#fff"/>
<rect x="517" y="464" width="4" height="6" fill="#fff"/>
<rect x="518" y="458" width="2" height="5" fill="#fff"/>
<rect x="517" y="471" width="4" height="1" fill="#fff"/>
<rect x="522" y="464" width="4" height="6" fill="#fff"/>
<rect x="524" y="458" width="1" height="5" fill="#fff"/>
<rect x="522" y="471" width="4" height="1" fill="#fff"/>
<rect x="528" y="464" width="4" height="6" fill="#fff"/>
<rect x="530" y="458" width="1" height="5" fill="#fff"/>
<rect x="528" y="471" width="4" height="1" fill="#fff"/>
<rect x="534" y="464" width="4" height="6" fill="#fff"/>
<rect x="536" y="458" width="2" height="5" fill="#fff"/>
<rect x="534" y="471" width="4" height="1" fill="#fff"/>
<rect x="540" y="464" width="4" height="6" fill="#fff"/>
<rect x="541" y="458" width="1" height="5" fill="#fff"/>
<rect x="540" y="471" width="4" height="1" fill="#fff"/>
<rect x="546" y="464" width="4" height="6" fill="#fff"/>
<rect x="547" y="458" width="1" height="5" fill="#fff"/>
<rect x="546" y="471" width="4" height="1" fill="#fff"/>
<rect x="552" y="464" width="4" height="6" fill="#fff"/>
<rect x="553" y="458" width="2" height="5" fill="#fff"/>
<rect x="552" y="471" width="4" height="1" fill="#fff"/>
<rect x="557" y="464" width="4" height="6" fill="#fff"/>
<rect x="559" y="458" width="1" height="5" fill="#fff"/>
<rect x="557" y="471" width="4" height="1" fill="#fff"/>
<rect x="563" y="464" width="4" height="6" fill="#fff"/>
<rect x="565" y="458" width="1" height="5" fill="#fff"/>
<rect x="563" y="471" width="4" height="1" fill="#fff"/>
<rect x="569" y="464" width="4" height="6" fill="#fff"/>
<rect x="571" y="458" width="2" height="5" fill="#fff"/>
<rect x="569" y="471" width="4" height="1" fill="#fff"/>
<rect x="575" y="464" width="4" height="6" fill="#fff"/>
<rect x="576" y="458" width="1" height="5" fill="#fff"/>
<rect x="575" y="471" width="4" height="1" fill="#fff"/>
<rect x="581" y="464" width="4" height="6" fill="#fff"/>
<rect x="582" y="458" width="1" height="5" fill="#fff"/>
<rect x="581" y="471" width="4" height="1" fill="#fff"/>
<rect x="587" y="464" width="4" height="6" fill="#fff"/>
<rect x="588" y="458" width="2" height="5" fill="#fff"/>
<rect x="587" y="471" width="4" height="1" fill="#fff"/>
<rect x="592" y="464" width="4" height="6" fill="#fff"/>
<rect x="594" y="458" width="1" height="5" fill="#fff"/>
<rect x="592" y="471" width="4" height="1" fill="#fff"/>
<rect x="598" y="464" width="4" height="6" fill="#fff"/>
<rect x="600" y="458" width="1" height="5" fill="#fff"/>
<rect x="598" y="471" width="4" height="1" fill="#fff"/>
<rect x="604" y="464" width="4" height="6" fill="#fff"/>
<rect x="606" y="458" width="2" height="5" fill="#fff"/>
<rect x="604" y="471" width="4" height="1" fill="#fff"/>
<rect x="610" y="464" width="4" height="6" fill="#fff"/>
<rect x="611" y="458" width="1" height="5" fill="#fff"/>
<rect x="610" y="471" width="4" height="1" fill="#fff"/>
<rect x="616" y="464" width="4" height="6" fill="#fff"/>
<rect x="617" y="458" width="1" height="5" fill="#fff"/>
<rect x="616" y="471" width="4" height="1" fill="#fff"/>
<rect x="419.5" y="475.5" width="225" height="18" fill="#fff" stroke="#000" stroke-width="1"/>
<rect x="419.5" y="475.5" width="6" height="7" fill="none" stroke="#000"/>
<rect x="418.5" y="482.5" width="7" height="7" fill="#fff" stroke="#000"/>
<rect x="427" y="475" width="3" height="16" fill="#000"/>
<path d="M430.5 476.5H436.5V481.5H439.5V489.5H430.5" fill="none" stroke="#000"/>
<path d="M432 478V481H436" fill="none" stroke="#000" stroke-width="2"/>
<rect x="632" y="475" width="4" height="16" fill="#000"/>
<line x1="636" y1="482.5" x2="644" y2="482.5" stroke="#000" stroke-width="1"/>
<line x1="636" y1="489.5" x2="644" y2="489.5" stroke="#000" stroke-width="1"/>
<path d="M632 489.5H623.5V481.5H626.5V476.5H632" fill="none" stroke="#000"/>
<path d="M626 481H630V478H632" fill="none" stroke="#000" stroke-width="2"/>
<rect x="444" y="477" width="174" height="7" fill="#000"/>
<rect x="443" y="484" width="176" height="8" fill="#000"/>
<rect x="444" y="484" width="1" height="6" fill="#fff"/>
<rect x="447" y="484" width="4" height="6" fill="#fff"/>
<rect x="448" y="478" width="2" height="5" fill="#fff"/>
<rect x="447" y="491" width="4" height="1" fill="#fff"/>
<rect x="453" y="484" width="4" height="6" fill="#fff"/>
<rect x="454" y="478" width="1" height="5" fill="#fff"/>
<rect x="453" y="491" width="4" height="1" fill="#fff"/>
<rect x="458" y="484" width="4" height="6" fill="#fff"/>
<rect x="460" y="478" width="1" height="5" fill="#fff"/>
<rect x="458" y="491" width="4" height="1" fill="#fff"/>
<rect x="464" y="484" width="4" height="6" fill="#fff"/>
<rect x="466" y="478" width="2" height="5" fill="#fff"/>
<rect x="464" y="491" width="4" height="1" fill="#fff"/>
<rect x="470" y="484" width="4" height="6" fill="#fff"/>
<rect x="472" y="478" width="1" height="5" fill="#fff"/>
<rect x="470" y="491" width="4" height="1" fill="#fff"/>
<rect x="476" y="484" width="4" height="6" fill="#fff"/>
<rect x="477" y="478" width="1" height="5" fill="#fff"/>
<rect x="476" y="491" width="4" height="1" fill="#fff"/>
<rect x="482" y="484" width="4" height="6" fill="#fff"/>
<rect x="483" y="478" width="2" height="5" fill="#fff"/>
<rect x="482" y="491" width="4" height="1" fill="#fff"/>
<rect x="488" y="484" width="4" height="6" fill="#fff"/>
<rect x="489" y="478" width="1" height="5" fill="#fff"/>
<rect x="488" y="491" width="4" height="1" fill="#fff"/>
<rect x="493" y="484" width="4" height="6" fill="#fff"/>
<rect x="495" y="478" width="1" height="5" fill="#fff"/>
<rect x="493" y="491" width="4" height="1" fill="#fff"/>
<rect x="499" y="484" width="4" height="6" fill="#fff"/>
<rect x="501" y="478" width="2" height="5" fill="#fff"/>
<rect x="499" y="491" width="4" height="1" fill="#fff"/>
<rect x="505" y="484" width="4" height="6" fill="#fff"/>
<rect x="506" y="478" width="1" height="5" fill="#fff"/>
<rect x="505" y="491" width="4" height="1" fill="#fff"/>
<rect x="511" y="484" width="4" height="6" fill="#fff"/>
<rect x="512" y="478" width="1" height="5" fill="#fff"/>
<rect x="511" y="491" width="4" height="1" fill="#fff"/>
<rect x="517" y="484" width="4" height="6" fill="#fff"/>
<rect x="518" y="478" width="2" height="5" fill="#fff"/>
<rect x="517" y="491" width="4" height="1" fill="#fff"/>
<rect x="522" y="484" width="4" height="6" fill="#fff"/>
<rect x="524" y="478" width="1" height="5" fill="#fff"/>
<rect x="522" y="491" width="4" height="1" fill="#fff"/>
<rect x="528" y="484" width="4" height="6" fill="#fff"/>
<rect x="530" y="478" width="1" height="5" fill="#fff"/>
<rect x="528" y="491" width="4" height="1" fill="#fff"/>
<rect x="534" y="484" width="4" height="6" fill="#fff"/>
<rect x="536" y="478" width="2" height="5" fill="#fff"/>
<rect x="534" y="491" width="4" height="1" fill="#fff"/>
<rect x="540" y="484" width="4" height="6" fill="#fff"/>
<rect x="541" y="478" width="1" height="5" fill="#fff"/>
<rect x="540" y="491" width="4" height="1" fill="#fff"/>
<rect x="546" y="484" width="4" height="6" fill="#fff"/>
<rect x="547" y="478" width="1" height="5" fill="#fff"/>
<rect x="546" y="491" width="4" height="1" fill="#fff"/>
<rect x="552" y="484" width="4" height="6" fill="#fff"/>
<rect x="553" y="478" width="2" height="5" fill="#fff"/>
<rect x="552" y="491" width="4" height="1" fill="#fff"/>
<rect x="557" y="484" width="4" height="6" fill="#fff"/>
<rect x="559" y="478" width="1" height="5" fill="#fff"/>
<rect x="557" y="491" width="4" height="1" fill="#fff"/>
<rect x="563" y="484" width="4" height="6" fill="#fff"/>
<rect x="565" y="478" width="1" height="5" fill="#fff"/>
<rect x="563" y="491" width="4" height="1" fill="#fff"/>
<rect x="569" y="484" width="4" height="6" fill="#fff"/>
<rect x="571" y="478" width="2" height="5" fill="#fff"/>
<rect x="569" y="491" width="4" height="1" fill="#fff"/>
<rect x="575" y="484" width="4" height="6" fill="#fff"/>
<rect x="576" y="478" width="1" height="5" fill="#fff"/>
<rect x="575" y="491" width="4" height="1" fill="#fff"/>
<rect x="581" y="484" width="4" height="6" fill="#fff"/>
<rect x="582" y="478" width="1" height="5" fill="#fff"/>
<rect x="581" y="491" width="4" height="1" fill="#fff"/>
<rect x="587" y="484" width="4" height="6" fill="#fff"/>
<rect x="588" y="478" width="2" height="5" fill="#fff"/>
<rect x="587" y="491" width="4" height="1" fill="#fff"/>
<rect x="592" y="484" width="4" height="6" fill="#fff"/>
<rect x="594" y="478" width="1" height="5" fill="#fff"/>
<rect x="592" y="491" width="4" height="1" fill="#fff"/>
<rect x="598" y="484" width="4" height="6" fill="#fff"/>
<rect x="600" y="478" width="1" height="5" fill="#fff"/>
<rect x="598" y="491" width="4" height="1" fill="#fff"/>
<rect x="604" y="484" width="4" height="6" fill="#fff"/>
<rect x="606" y="478" width="2" height="5" fill="#fff"/>
<rect x="604" y="491" width="4" height="1" fill="#fff"/>
<rect x="610" y="484" width="4" height="6" fill="#fff"/>
<rect x="611" y="478" width="1" height="5" fill="#fff"/>
<rect x="610" y="491" width="4" height="1" fill="#fff"/>
<rect x="616" y="484" width="4" height="6" fill="#fff"/>
<rect x="617" y="478" width="1" height="5" fill="#fff"/>
<rect x="616" y="491" width="4" height="1" fill="#fff"/>
<rect x="419.5" y="495.5" width="225" height="19" fill="#fff" stroke="#000" stroke-width="1"/>
<rect x="419.5" y="495.5" width="6" height="7" fill="none" stroke="#000"/>
<rect x="418.5" y="502.5" width="7" height="7" fill="#fff" stroke="#000"/>
<rect x="427" y="495" width="3" height="16" fill="#000"/>
<path d="M430.5 496.5H436.5V501.5H439.5V509.5H430.5" fill="none" stroke="#000"/>
<path d="M432 498V501H436" fill="none" stroke="#000" stroke-width="2"/>
<rect x="632" y="495" width="4" height="16" fill="#000"/>
<line x1="636" y1="502.5" x2="644" y2="502.5" stroke="#000" stroke-width="1"/>
<line x1="636" y1="509.5" x2="644" y2="509.5" stroke="#000" stroke-width="1"/>
<path d="M632 509.5H623.5V501.5H626.5V496.5H632" fill="none" stroke="#000"/>
<path d="M626 501H630V498H632" fill="none" stroke="#000" stroke-width="2"/>
<rect x="444" y="497" width="174" height="7" fill="#000"/>
<rect x="443" y="504" width="176" height="8" fill="#000"/>
<rect x="444" y="504" width="1" height="6" fill="#fff"/>
<rect x="447" y="504" width="4" height="6" fill="#fff"/>
<rect x="448" y="498" width="2" height="5" fill="#fff"/>
<rect x="447" y="511" width="4" height="1" fill="#fff"/>
<rect x="453" y="504" width="4" height="6" fill="#fff"/>
<rect x="454" y="498" width="1" height="5" fill="#fff"/>
<rect x="453" y="511" width="4" height="1" fill="#fff"/>
<rect x="458" y="504" width="4" height="6" fill="#fff"/>
<rect x="460" y="498" width="1" height="5" fill="#fff"/>
<rect x="458" y="511" width="4" height="1" fill="#fff"/>
<rect x="464" y="504" width="4" height="6" fill="#fff"/>
<rect x="466" y="498" width="2" height="5" fill="#fff"/>
<rect x="464" y="511" width="4" height="1" fill="#fff"/>
<rect x="470" y="504" width="4" height="6" fill="#fff"/>
<rect x="472" y="498" width="1" height="5" fill="#fff"/>
<rect x="470" y="511" width="4" height="1" fill="#fff"/>
<rect x="476" y="504" width="4" height="6" fill="#fff"/>
<rect x="477" y="498" width="1" height="5" fill="#fff"/>
<rect x="476" y="511" width="4" height="1" fill="#fff"/>
<rect x="482" y="504" width="4" height="6" fill="#fff"/>
<rect x="483" y="498" width="2" height="5" fill="#fff"/>
<rect x="482" y="511" width="4" height="1" fill="#fff"/>
<rect x="488" y="504" width="4" height="6" fill="#fff"/>
<rect x="489" y="498" width="1" height="5" fill="#fff"/>
<rect x="488" y="511" width="4" height="1" fill="#fff"/>
<rect x="493" y="504" width="4" height="6" fill="#fff"/>
<rect x="495" y="498" width="1" height="5" fill="#fff"/>
<rect x="493" y="511" width="4" height="1" fill="#fff"/>
<rect x="499" y="504" width="4" height="6" fill="#fff"/>
<rect x="501" y="498" width="2" height="5" fill="#fff"/>
<rect x="499" y="511" width="4" height="1" fill="#fff"/>
<rect x="505" y="504" width="4" height="6" fill="#fff"/>
<rect x="506" y="498" width="1" height="5" fill="#fff"/>
<rect x="505" y="511" width="4" height="1" fill="#fff"/>
<rect x="511" y="504" width="4" height="6" fill="#fff"/>
<rect x="512" y="498" width="1" height="5" fill="#fff"/>
<rect x="511" y="511" width="4" height="1" fill="#fff"/>
<rect x="517" y="504" width="4" height="6" fill="#fff"/>
<rect x="518" y="498" width="2" height="5" fill="#fff"/>
<rect x="517" y="511" width="4" height="1" fill="#fff"/>
<rect x="522" y="504" width="4" height="6" fill="#fff"/>
<rect x="524" y="498" width="1" height="5" fill="#fff"/>
<rect x="522" y="511" width="4" height="1" fill="#fff"/>
<rect x="528" y="504" width="4" height="6" fill="#fff"/>
<rect x="530" y="498" width="1" height="5" fill="#fff"/>
<rect x="528" y="511" width="4" height="1" fill="#fff"/>
<rect x="534" y="504" width="4" height="6" fill="#fff"/>
<rect x="536" y="498" width="2" height="5" fill="#fff"/>
<rect x="534" y="511" width="4" height="1" fill="#fff"/>
<rect x="540" y="504" width="4" height="6" fill="#fff"/>
<rect x="541" y="498" width="1" height="5" fill="#fff"/>
<rect x="540" y="511" width="4" height="1" fill="#fff"/>
<rect x="546" y="504" width="4" height="6" fill="#fff"/>
<rect x="547" y="498" width="1" height="5" fill="#fff"/>
<rect x="546" y="511" width="4" height="1" fill="#fff"/>
<rect x="552" y="504" width="4" height="6" fill="#fff"/>
<rect x="553" y="498" width="2" height="5" fill="#fff"/>
<rect x="552" y="511" width="4" height="1" fill="#fff"/>
<rect x="557" y="504" width="4" height="6" fill="#fff"/>
<rect x="559" y="498" width="1" height="5" fill="#fff"/>
<rect x="557" y="511" width="4" height="1" fill="#fff"/>
<rect x="563" y="504" width="4" height="6" fill="#fff"/>
<rect x="565" y="498" width="1" height="5" fill="#fff"/>
<rect x="563" y="511" width="4" height="1" fill="#fff"/>
<rect x="569" y="504" width="4" height="6" fill="#fff"/>
<rect x="571" y="498" width="2" height="5" fill="#fff"/>
<rect x="569" y="511" width="4" height="1" fill="#fff"/>
<rect x="575" y="504" width="4" height="6" fill="#fff"/>
<rect x="576" y="498" width="1" height="5" fill="#fff"/>
<rect x="575" y="511" width="4" height="1" fill="#fff"/>
<rect x="581" y="504" width="4" height="6" fill="#fff"/>
<rect x="582" y="498" width="1" height="5" fill="#fff"/>
<rect x="581" y="511" width="4" height="1" fill="#fff"/>
<rect x="587" y="504" width="4" height="6" fill="#fff"/>
<rect x="588" y="498" width="2" height="5" fill="#fff"/>
<rect x="587" y="511" width="4" height="1" fill="#fff"/>
<rect x="592" y="504" width="4" height="6" fill="#fff"/>
<rect x="594" y="498" width="1" height="5" fill="#fff"/>
<rect x="592" y="511" width="4" height="1" fill="#fff"/>
<rect x="598" y="504" width="4" height="6" fill="#fff"/>
<rect x="600" y="498" width="1" height="5" fill="#fff"/>
<rect x="598" y="511" width="4" height="1" fill="#fff"/>
<rect x="604" y="504" width="4" height="6" fill="#fff"/>
<rect x="606" y="498" width="2" height="5" fill="#fff"/>
<rect x="604" y="511" width="4" height="1" fill="#fff"/>
<rect x="610" y="504" width="4" height="6" fill="#fff"/>
<rect x="611" y="498" width="1" height="5" fill="#fff"/>
<rect x="610" y="511" width="4" height="1" fill="#fff"/>
<rect x="616" y="504" width="4" height="6" fill="#fff"/>
<rect x="617" y="498" width="1" height="5" fill="#fff"/>
<rect x="616" y="511" width="4" height="1" fill="#fff"/>
<polygon points="505,385 558,385 560.5,387.5 560.5,399 558,401.5 505,401.5 502.5,399 502.5,387.5" fill="#000" shape-rendering="geometricPrecision"/>
<polygon points="506.1,387.4 556.9,387.4 558.1,388.6 558.1,397.9 556.9,399.1 506.1,399.1 504.9,397.9 504.9,388.6" fill="#fff" shape-rendering="geometricPrecision"/>
<polygon points="504.5,464.5 558,464.5 560.5,467 560.5,480 558,482.5 504.5,482.5 502,480 502,467" fill="#000" shape-rendering="geometricPrecision"/>
<polygon points="505.6,466.9 556.9,466.9 558.1,468.1 558.1,478.9 556.9,480.1 505.6,480.1 504.4,478.9 504.4,468.1" fill="#fff" shape-rendering="geometricPrecision"/>
<rect x="419" y="333" width="19" height="13" fill="#000"/>
<rect x="425" y="345" width="13" height="7" fill="#000"/>
<rect x="425" y="334" width="1" height="5" fill="#fff"/>
<rect x="431" y="334" width="1" height="5" fill="#fff"/>
<rect x="433" y="335" width="2" height="3" fill="#fff"/>
<rect x="425" y="340" width="1" height="5" fill="#fff"/>
<rect x="431" y="340" width="1" height="5" fill="#fff"/>
<rect x="433" y="341" width="2" height="3" fill="#fff"/>
<rect x="431" y="346" width="1" height="4" fill="#fff"/>
<rect x="436" y="334" width="1" height="16" fill="#fff"/>
<rect x="426" y="350" width="11" height="1" fill="#fff"/>
<polygon points="373.5,310 410.5,310 413,312.5 413,326 410.5,328.5 373.5,328.5 371,326 371,312.5" fill="#000" shape-rendering="geometricPrecision"/>
<polygon points="374.6,312.4 409.4,312.4 410.6,313.6 410.6,324.9 409.4,326.1 374.6,326.1 373.4,324.9 373.4,313.6" fill="#fff" shape-rendering="geometricPrecision"/>
<polygon points="409.5,327.5 413,324.5 420.5,333 419,337.5" fill="#000" shape-rendering="geometricPrecision"/>
<line x1="411.5" y1="325.5" x2="420" y2="333.5" stroke="#fff" stroke-width="0.8" shape-rendering="geometricPrecision"/>
<polygon points="366.5,333 403,333 405.5,335.5 405.5,349 403,351.5 366.5,351.5 364,349 364,335.5" fill="#000" shape-rendering="geometricPrecision"/>
<polygon points="367.6,335.4 401.9,335.4 403.1,336.6 403.1,347.9 401.9,349.1 367.6,349.1 366.4,347.9 366.4,336.6" fill="#fff" shape-rendering="geometricPrecision"/>
<polygon points="402.9,337.7 405.5,337.7 409.5,342 405.5,346.3 402.9,346.3" fill="#fff" shape-rendering="geometricPrecision"/>
<line x1="404.5" y1="337.1" x2="411" y2="341.4" stroke="#000" stroke-width="2.1" shape-rendering="geometricPrecision"/>
<line x1="404.5" y1="346.9" x2="411" y2="342.6" stroke="#000" stroke-width="2.1" shape-rendering="geometricPrecision"/>
<rect x="410" y="340" width="9" height="4" fill="#000"/>
<polygon points="385,359 421,359 423.5,361.5 423.5,374 421,376.5 385,376.5 382.5,374 382.5,361.5" fill="#000" shape-rendering="geometricPrecision"/>
<polygon points="386.1,361.4 419.9,361.4 421.1,362.6 421.1,372.9 419.9,374.1 386.1,374.1 384.9,372.9 384.9,362.6" fill="#fff" shape-rendering="geometricPrecision"/>
<line x1="421.5" y1="361" x2="427" y2="351.5" stroke="#000" stroke-width="2.4" shape-rendering="geometricPrecision"/>
<rect x="472" y="345" width="19" height="7" fill="#000"/>
<rect x="473" y="350" width="17" height="1" fill="#fff"/>
<rect x="478" y="347" width="1" height="3" fill="#fff"/>
<rect x="484" y="347" width="1" height="3" fill="#fff"/>
<rect x="486" y="347" width="2" height="2" fill="#fff"/>
<polygon points="442,358.5 477.5,358.5 480,361 480,374 477.5,376.5 442,376.5 439.5,374 439.5,361" fill="#000" shape-rendering="geometricPrecision"/>
<polygon points="443.1,360.9 476.4,360.9 477.6,362.1 477.6,372.9 476.4,374.1 443.1,374.1 441.9,372.9 441.9,362.1" fill="#fff" shape-rendering="geometricPrecision"/>
<line x1="487.5" y1="351.5" x2="479" y2="361" stroke="#000" stroke-width="2.2" shape-rendering="geometricPrecision"/>
<rect x="516" y="345" width="14" height="7" fill="#000"/>
<rect x="517" y="350" width="12" height="1" fill="#fff"/>
<rect x="522" y="347" width="1" height="3" fill="#fff"/>
<rect x="527" y="347" width="1" height="3" fill="#fff"/>
<polygon points="533,359 568,359 570.5,361.5 570.5,373.5 568,376 533,376 530.5,373.5 530.5,361.5" fill="#000" shape-rendering="geometricPrecision"/>
<polygon points="534.1,361.4 566.9,361.4 568.1,362.6 568.1,372.4 566.9,373.6 534.1,373.6 532.9,372.4 532.9,362.6" fill="#fff" shape-rendering="geometricPrecision"/>
<line x1="523" y1="351.5" x2="532" y2="361" stroke="#000" stroke-width="2.2" shape-rendering="geometricPrecision"/>
<rect x="578" y="345" width="19" height="7" fill="#000"/>
<rect x="579" y="350" width="17" height="1" fill="#fff"/>
<rect x="584" y="347" width="1" height="3" fill="#fff"/>
<rect x="590" y="347" width="1" height="3" fill="#fff"/>
<rect x="592" y="347" width="2" height="2" fill="#fff"/>
<polygon points="613.5,339 650.5,339 653,341.5 653,354.5 650.5,357 613.5,357 611,354.5 611,341.5" fill="#000" shape-rendering="geometricPrecision"/>
<polygon points="614.6,341.4 649.4,341.4 650.6,342.6 650.6,353.4 649.4,354.6 614.6,354.6 613.4,353.4 613.4,342.6" fill="#fff" shape-rendering="geometricPrecision"/>
<polygon points="614.1,343.2 611.5,343.2 605.5,348 611.5,353.3 614.1,353.3" fill="#fff" shape-rendering="geometricPrecision"/>
<line x1="612.5" y1="342.6" x2="604" y2="347.4" stroke="#000" stroke-width="2.1" shape-rendering="geometricPrecision"/>
<line x1="612.5" y1="353.9" x2="604" y2="348.6" stroke="#000" stroke-width="2.1" shape-rendering="geometricPrecision"/>
<rect x="597" y="346.5" width="8" height="3" fill="#000"/>
<rect x="660" y="342" width="19" height="12" fill="#000"/>
<rect x="661" y="352" width="17" height="1" fill="#fff"/>
<rect x="666" y="343" width="1" height="9" fill="#fff"/>
<rect x="672" y="343" width="1" height="9" fill="#fff"/>
<rect x="674" y="344" width="2" height="2" fill="#fff"/>
<rect x="674" y="347" width="2" height="2" fill="#fff"/>
<rect x="674" y="350" width="2" height="2" fill="#fff"/>
<polygon points="695.5,336.5 726.5,336.5 729,339 729,352 726.5,354.5 695.5,354.5 693,352 693,339" fill="#000" shape-rendering="geometricPrecision"/>
<polygon points="696.6,338.9 725.4,338.9 726.6,340.1 726.6,350.9 725.4,352.1 696.6,352.1 695.4,350.9 695.4,340.1" fill="#fff" shape-rendering="geometricPrecision"/>
<polygon points="695.6,341.2 693,341.2 687,346.3 693,349.8 695.6,349.8" fill="#fff" shape-rendering="geometricPrecision"/>
<line x1="694" y1="340.6" x2="685.5" y2="345.7" stroke="#000" stroke-width="2.1" shape-rendering="geometricPrecision"/>
<line x1="694" y1="350.4" x2="685.5" y2="346.9" stroke="#000" stroke-width="2.1" shape-rendering="geometricPrecision"/>
<rect x="679" y="344.55" width="7.5" height="3.5" fill="#000"/>
<polygon points="688.5,358.5 726,358.5 728.5,361 728.5,374.5 726,377 688.5,377 686,374.5 686,361" fill="#000" shape-rendering="geometricPrecision"/>
<polygon points="689.6,360.9 724.9,360.9 726.1,362.1 726.1,373.4 724.9,374.6 689.6,374.6 688.4,373.4 688.4,362.1" fill="#fff" shape-rendering="geometricPrecision"/>
<polygon points="679,349.5 690,359.5 687.5,363" fill="#fff" shape-rendering="geometricPrecision"/>
<line x1="679" y1="349" x2="690.5" y2="359.5" stroke="#000" stroke-width="1.8" shape-rendering="geometricPrecision"/>
<line x1="677.5" y1="351.5" x2="687.5" y2="364" stroke="#000" stroke-width="1.8" shape-rendering="geometricPrecision"/>
<path d="M728 365 l2 1 l1 3 l-1 4 l-2 2 l1 4 l1 3 l-1 5 l1 4 l-1 4 l1 4 l-1 3 l-3 2 l-6 0 l-5 -1 l-6 0 l-4 -2 l-1 -4 l1 -5 l-1 -5 l0 -4 l-1 -3 l2 -3" fill="none" stroke="#000" stroke-width="1.15" stroke-linejoin="round" shape-rendering="geometricPrecision"/>
<rect x="667.5" y="399.5" width="23" height="111" fill="#fff" stroke="#000"/>
<line x1="669.5" y1="400" x2="669.5" y2="510" stroke="#000" stroke-width="1"/>
<line x1="683.5" y1="400" x2="683.5" y2="503" stroke="#000" stroke-width="1"/>
<rect x="670.5" y="404.5" width="6" height="6" fill="#fff" stroke="#000"/>
<rect x="678" y="400" width="3" height="7" fill="#000"/>
<polygon points="685,402 687,402 688,403 688,406 687,407 685,407 684,406 684,403" fill="#000"/>
<rect x="685" y="401" width="2" height="7" fill="#000"/>
<rect x="670.5" y="414.5" width="6" height="6" fill="#fff" stroke="#000"/>
<rect x="678" y="409" width="3" height="7" fill="#000"/>
<polygon points="685,411 687,411 688,412 688,415 687,416 685,416 684,415 684,412" fill="#000"/>
<rect x="685" y="410" width="2" height="7" fill="#000"/>
<rect x="670.5" y="423.5" width="6" height="6" fill="#fff" stroke="#000"/>
<rect x="678" y="418" width="3" height="7" fill="#000"/>
<polygon points="685,420 687,420 688,421 688,424 687,425 685,425 684,424 684,421" fill="#000"/>
<rect x="685" y="419" width="2" height="7" fill="#000"/>
<rect x="670.5" y="432.5" width="6" height="6" fill="#fff" stroke="#000"/>
<rect x="678" y="427" width="3" height="7" fill="#000"/>
<polygon points="685,429 687,429 688,430 688,433 687,434 685,434 684,433 684,430" fill="#000"/>
<rect x="685" y="428" width="2" height="7" fill="#000"/>
<rect x="670.5" y="441.5" width="6" height="6" fill="#fff" stroke="#000"/>
<rect x="678" y="436" width="3" height="7" fill="#000"/>
<polygon points="685,438 687,438 688,439 688,442 687,443 685,443 684,442 684,439" fill="#000"/>
<rect x="685" y="437" width="2" height="7" fill="#000"/>
<rect x="670.5" y="450.5" width="6" height="6" fill="#fff" stroke="#000"/>
<rect x="678" y="446" width="3" height="7" fill="#000"/>
<polygon points="685,447 687,447 688,448 688,451 687,452 685,452 684,451 684,448" fill="#000"/>
<rect x="685" y="446" width="2" height="7" fill="#000"/>
<rect x="670.5" y="459.5" width="6" height="6" fill="#fff" stroke="#000"/>
<rect x="678" y="455" width="3" height="7" fill="#000"/>
<polygon points="685,456 687,456 688,457 688,460 687,461 685,461 684,460 684,457" fill="#000"/>
<rect x="685" y="455" width="2" height="7" fill="#000"/>
<rect x="670.5" y="468.5" width="6" height="6" fill="#fff" stroke="#000"/>
<rect x="678" y="464" width="3" height="7" fill="#000"/>
<polygon points="685,465 687,465 688,466 688,469 687,470 685,470 684,469 684,466" fill="#000"/>
<rect x="685" y="464" width="2" height="7" fill="#000"/>
<rect x="670.5" y="477.5" width="6" height="6" fill="#fff" stroke="#000"/>
<rect x="678" y="473" width="3" height="7" fill="#000"/>
<polygon points="685,474 687,474 688,475 688,478 687,479 685,479 684,478 684,475" fill="#000"/>
<rect x="685" y="473" width="2" height="7" fill="#000"/>
<rect x="670.5" y="486.5" width="6" height="6" fill="#fff" stroke="#000"/>
<rect x="678" y="482" width="3" height="7" fill="#000"/>
<polygon points="685,483 687,483 688,484 688,487 687,488 685,488 684,487 684,484" fill="#000"/>
<rect x="685" y="482" width="2" height="7" fill="#000"/>
<rect x="670.5" y="495.5" width="6" height="6" fill="#fff" stroke="#000"/>
<rect x="678" y="491" width="3" height="7" fill="#000"/>
<polygon points="685,492 687,492 688,493 688,496 687,497 685,497 684,496 684,493" fill="#000"/>
<rect x="685" y="491" width="2" height="7" fill="#000"/>
<rect x="670.5" y="504.5" width="6" height="6" fill="#fff" stroke="#000"/>
<rect x="678" y="500" width="3" height="7" fill="#000"/>
<polygon points="685,502 687,502 688,503 688,506 687,507 685,507 684,506 684,503" fill="#000"/>
<rect x="685" y="501" width="2" height="7" fill="#000"/>
<polygon points="706,428 730,428 730,424 733,424 733,422 737,422 737,472 733,472 733,470 730,470 730,466 706,466 706,456 704,456 704,435 706,435" fill="#000"/>
<rect x="700.5" y="437.5" width="4" height="7" fill="#fff" stroke="#000"/>
<rect x="700.5" y="448.5" width="4" height="7" fill="#fff" stroke="#000"/>
<rect x="705" y="445" width="2" height="3" fill="#fff"/>
<rect x="698" y="489" width="31" height="7" fill="#000"/>
<rect x="699" y="490" width="1" height="5" fill="#fff"/>
<rect x="701" y="491" width="3" height="3" fill="#fff"/>
<rect x="705" y="490" width="1" height="5" fill="#fff"/>
<rect x="710" y="490" width="2" height="5" fill="#fff"/>
<rect x="716" y="490" width="2" height="5" fill="#fff"/>
<rect x="722" y="490" width="1" height="5" fill="#fff"/>
<polygon points="679.5,502.5 708.5,502.5 711,505 711,517.5 708.5,520 679.5,520 677,517.5 677,505" fill="#000" shape-rendering="geometricPrecision"/>
<polygon points="680.6,504.9 707.4,504.9 708.6,506.1 708.6,516.4 707.4,517.6 680.6,517.6 679.4,516.4 679.4,506.1" fill="#fff" shape-rendering="geometricPrecision"/>
<polygon points="714,495.5 718.5,495.5 711.5,506 706.5,502.5" fill="#000" shape-rendering="geometricPrecision"/>
<line x1="715" y1="498" x2="709.5" y2="504" stroke="#fff" stroke-width="0.8" shape-rendering="geometricPrecision"/>
</g>
<g style="will-change:transform">
<text transform="translate(265 22) scale(0.8 1)" font-size="14" textLength="26.63" lengthAdjust="spacing">SL1</text>
<text transform="translate(265 67) scale(0.8 1)" font-size="14" textLength="26.63" lengthAdjust="spacing">SL2</text>
<text transform="translate(265 111) scale(0.8 1)" font-size="14" textLength="26.63" lengthAdjust="spacing">SL3</text>
<text transform="translate(578 44) scale(0.8 1)" font-size="12" textLength="51.25" lengthAdjust="spacing">MH2561</text>
<text transform="translate(63.2 30) scale(0.8 1)" font-size="14" textLength="37.37" lengthAdjust="spacing">JP10</text>
<text transform="translate(22.5 50) scale(0.8 1)" font-size="14" textLength="37.5" lengthAdjust="spacing">JP33</text>
<text transform="translate(187.1 44) scale(0.8 1)" font-size="14" textLength="27.38" lengthAdjust="spacing">JP9</text>
<text transform="translate(59.5 108) scale(0.8 1)" font-size="14" textLength="15.37" lengthAdjust="spacing">J1</text>
<text transform="translate(60.3 196.5) scale(0.8 1)" font-size="14" textLength="26.62" lengthAdjust="spacing">J29</text>
<text transform="translate(58.5 255.4) scale(0.8 1)" font-size="14" textLength="17" lengthAdjust="spacing">J3</text>
<text transform="translate(155 181.5) scale(0.8 1)" font-size="14" textLength="37.25" lengthAdjust="spacing">JP13</text>
<text transform="translate(228.7 210) scale(0.8 1)" font-size="14" textLength="36.5" lengthAdjust="spacing">JP14</text>
<text transform="translate(103.5 230) scale(0.8 1)" font-size="14" textLength="25.88" lengthAdjust="spacing">J10</text>
<text transform="translate(178.7 291.7) scale(0.8 1)" font-size="14" textLength="35.38" lengthAdjust="spacing">CPU</text>
<text transform="translate(288.7 283.5) scale(0.8 1)" font-size="14" textLength="37.12" lengthAdjust="spacing">JP32</text>
<text transform="translate(289.9 304) scale(0.8 1)" font-size="14" textLength="36.25" lengthAdjust="spacing">JP12</text>
<text transform="translate(154.5 371) scale(0.8 1)" font-size="14" textLength="26.25" lengthAdjust="spacing">JP1</text>
<text transform="translate(203.2 371) scale(0.8 1)" font-size="14" textLength="37.63" lengthAdjust="spacing">JP11</text>
<text transform="translate(282.2 373) scale(0.8 1)" font-size="14" textLength="27.25" lengthAdjust="spacing">JP2</text>
<text transform="translate(288 421.6) scale(0.8 1)" font-size="14" textLength="56.5" lengthAdjust="spacing">BANK 0</text>
<text transform="translate(288 475) scale(0.8 1)" font-size="14" textLength="58" lengthAdjust="spacing">BANK 1</text>
<text transform="translate(298 449) scale(0.8 1)" font-size="14" textLength="29.38" lengthAdjust="spacing">TAG</text>
<text x="61.8" y="307.3" font-size="14" textLength="5.2" lengthAdjust="spacingAndGlyphs">B</text>
<text x="61.8" y="322" font-size="14" textLength="5.2" lengthAdjust="spacingAndGlyphs">A</text>
<text x="61.8" y="336.7" font-size="14" textLength="5.2" lengthAdjust="spacingAndGlyphs">N</text>
<text x="61.8" y="351.2" font-size="14" textLength="5.2" lengthAdjust="spacingAndGlyphs">K</text>
<text x="61.8" y="365.8" font-size="14" textLength="5.2" lengthAdjust="spacingAndGlyphs">0</text>
<text x="61.8" y="411.3" font-size="14" textLength="5.2" lengthAdjust="spacingAndGlyphs">B</text>
<text x="61.8" y="426.4" font-size="14" textLength="5.2" lengthAdjust="spacingAndGlyphs">A</text>
<text x="61.8" y="441" font-size="14" textLength="5.2" lengthAdjust="spacingAndGlyphs">N</text>
<text x="61.8" y="455.8" font-size="14" textLength="5.2" lengthAdjust="spacingAndGlyphs">K</text>
<text x="61.8" y="470.1" font-size="14" textLength="5.2" lengthAdjust="spacingAndGlyphs">1</text>
<text transform="translate(42.8 388) scale(0.8 1)" font-size="14" textLength="55.25" lengthAdjust="spacing">CACHE</text>
<text transform="translate(509.3 322) scale(0.8 1)" font-size="14" textLength="28.87" lengthAdjust="spacing">KBD</text>
<text transform="translate(630.2 322) scale(0.8 1)" font-size="14" textLength="35.25" lengthAdjust="spacing">BIOS</text>
<text transform="translate(507.1 399) scale(0.8 1)" font-size="14" textLength="60.75" lengthAdjust="spacing">BANK 0</text>
<text transform="translate(508.2 479.5) scale(0.8 1)" font-size="14" textLength="58.5" lengthAdjust="spacing">BANK 1</text>
<text transform="translate(375.2 323) scale(0.8 1)" font-size="14" textLength="38.63" lengthAdjust="spacing">JP18</text>
<text transform="translate(368.1 347) scale(0.8 1)" font-size="14" textLength="36.75" lengthAdjust="spacing">JP17</text>
<text transform="translate(387.5 372.3) scale(0.8 1)" font-size="14" textLength="36.25" lengthAdjust="spacing">JP21</text>
<text transform="translate(444.5 372.5) scale(0.8 1)" font-size="14" textLength="36.88" lengthAdjust="spacing">JP16</text>
<text transform="translate(534.5 372.2) scale(0.8 1)" font-size="14" textLength="36.88" lengthAdjust="spacing">JP19</text>
<text transform="translate(616.5 353) scale(0.8 1)" font-size="14" textLength="36.88" lengthAdjust="spacing">JP15</text>
<text transform="translate(697.5 349.8) scale(0.8 1)" font-size="14" textLength="28.75" lengthAdjust="spacing">JP8</text>
<text transform="translate(691.5 372) scale(0.8 1)" font-size="14" textLength="37.5" lengthAdjust="spacing">JP20</text>
<text transform="translate(682.5 515.7) scale(0.8 1)" font-size="14" textLength="26.25" lengthAdjust="spacing">J27</text>
</g>
</svg>
</body>
</html>
